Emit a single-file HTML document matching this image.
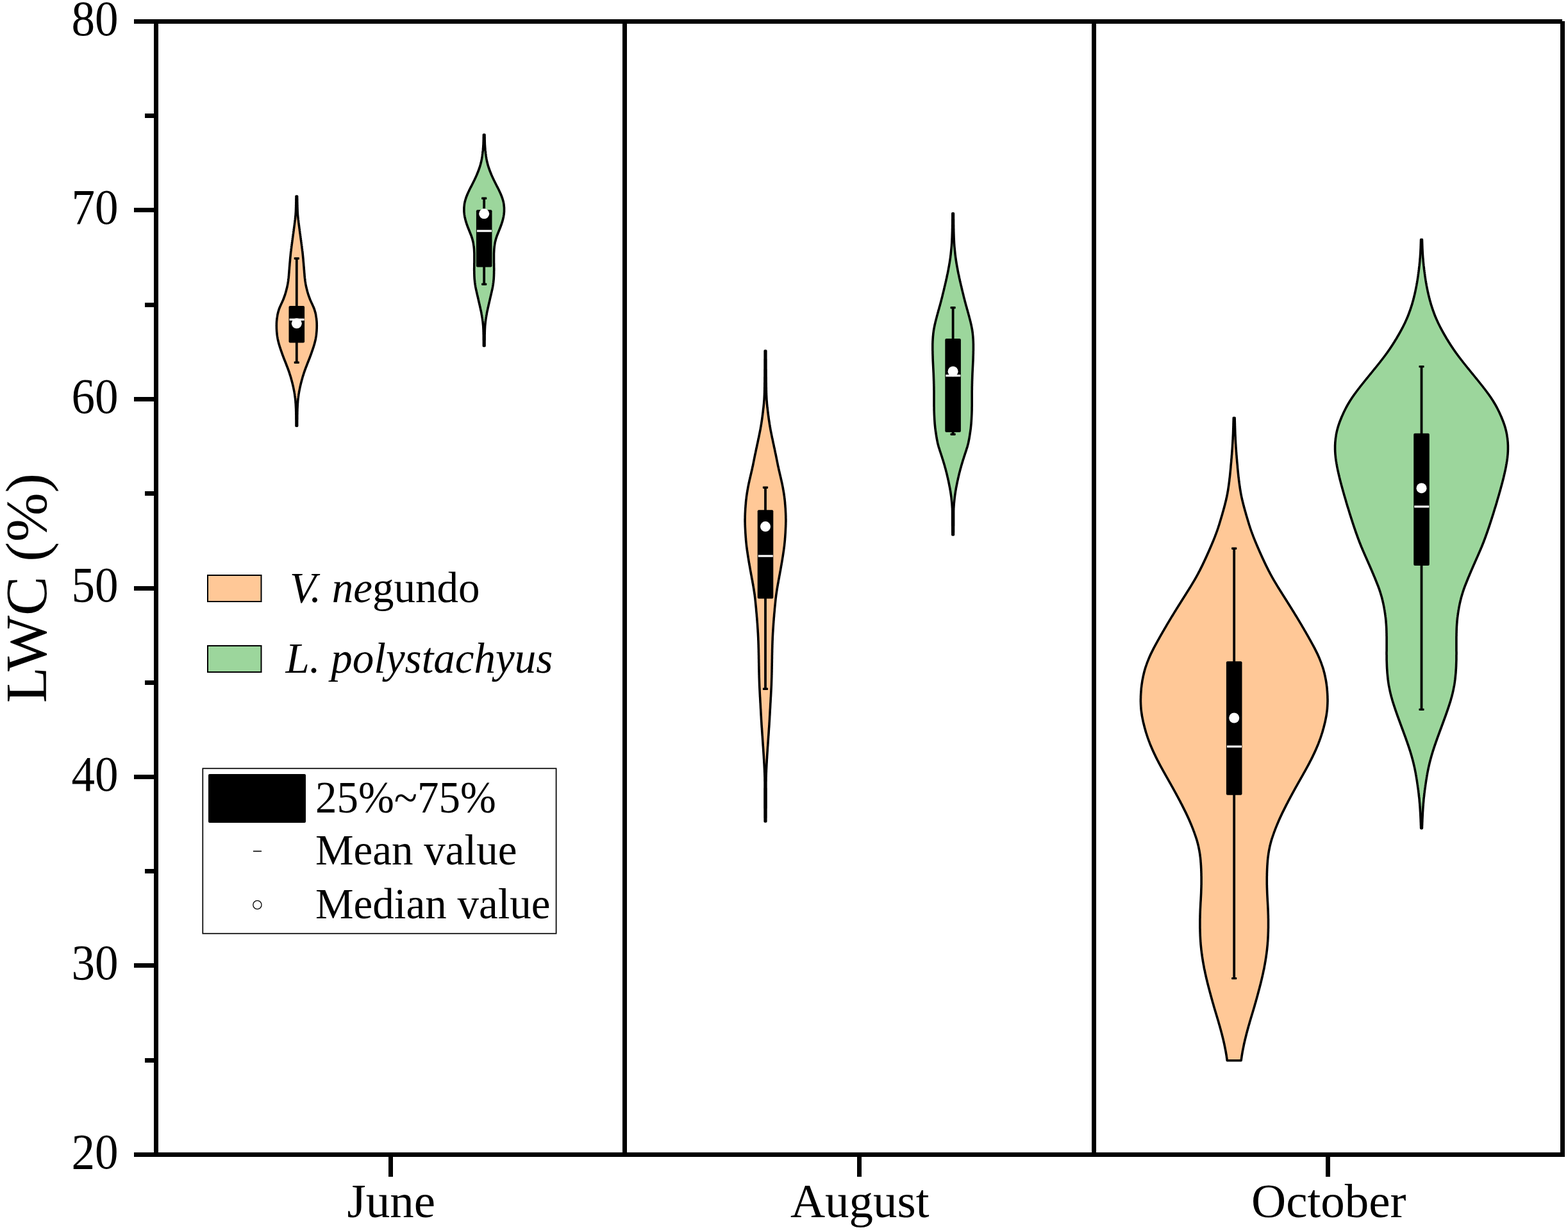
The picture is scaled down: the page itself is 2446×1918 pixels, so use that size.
<!DOCTYPE html>
<html lang="en"><head><meta charset="utf-8"><title>LWC violin plot</title>
<style>html,body{margin:0;padding:0;background:#fff;}body{width:2446px;height:1918px;overflow:hidden;}svg{display:block;}text{font-family:'Liberation Serif', 'Times New Roman', serif;fill:#000;}</style></head><body>
<svg xmlns="http://www.w3.org/2000/svg" width="2446" height="1918" viewBox="0 0 2446 1918">
<rect x="0" y="0" width="2446" height="1918" fill="#fff"/>
<g id="violins">
<path d="M463.6,306.0 L463.6,307.0 L463.6,308.0 L463.6,309.0 L463.7,310.0 L463.7,311.0 L463.7,312.0 L463.7,313.0 L463.7,314.0 L463.7,315.0 L463.8,316.0 L463.8,317.0 L463.8,318.0 L463.8,319.0 L463.9,320.0 L463.9,321.0 L463.9,322.0 L463.9,323.0 L464.0,324.0 L464.0,325.0 L464.0,326.0 L464.1,327.0 L464.1,328.0 L464.1,329.0 L464.2,330.0 L464.2,331.0 L464.3,332.0 L464.4,333.0 L464.4,334.0 L464.5,335.0 L464.6,336.0 L464.7,337.0 L464.8,338.0 L464.9,339.0 L465.0,340.0 L465.1,341.0 L465.2,342.0 L465.3,343.0 L465.5,344.0 L465.6,345.0 L465.7,346.0 L465.8,347.0 L466.0,348.0 L466.1,349.0 L466.2,350.0 L466.4,351.0 L466.5,352.0 L466.6,353.0 L466.8,354.0 L466.9,355.0 L467.0,356.0 L467.2,357.0 L467.3,358.0 L467.4,359.0 L467.5,360.0 L467.7,361.0 L467.8,362.0 L467.9,363.0 L468.1,364.0 L468.2,365.0 L468.4,366.0 L468.5,367.0 L468.6,368.0 L468.8,369.0 L468.9,370.0 L469.0,371.0 L469.2,372.0 L469.3,373.0 L469.4,374.0 L469.6,375.0 L469.7,376.0 L469.8,377.0 L470.0,378.0 L470.1,379.0 L470.2,380.0 L470.4,381.0 L470.5,382.0 L470.6,383.0 L470.8,384.0 L470.9,385.0 L471.0,386.0 L471.1,387.0 L471.3,388.0 L471.4,389.0 L471.5,390.0 L471.6,391.0 L471.8,392.0 L471.9,393.0 L472.0,394.0 L472.1,395.0 L472.2,396.0 L472.3,397.0 L472.4,398.0 L472.5,399.0 L472.6,400.0 L472.7,401.0 L472.8,402.0 L472.9,403.0 L473.0,404.0 L473.1,405.0 L473.1,406.0 L473.2,407.0 L473.3,408.0 L473.4,409.0 L473.5,410.0 L473.6,411.0 L473.7,412.0 L473.7,413.0 L473.8,414.0 L473.9,415.0 L474.0,416.0 L474.1,417.0 L474.2,418.0 L474.2,419.0 L474.3,420.0 L474.4,421.0 L474.5,422.0 L474.6,423.0 L474.6,424.0 L474.7,425.0 L474.8,426.0 L474.9,427.0 L475.0,428.0 L475.0,429.0 L475.1,430.0 L475.2,431.0 L475.3,432.0 L475.4,433.0 L475.5,434.0 L475.7,435.0 L475.8,436.0 L475.9,437.0 L476.0,438.0 L476.2,439.0 L476.3,440.0 L476.5,441.0 L476.7,442.0 L476.8,443.0 L477.0,444.0 L477.2,445.0 L477.4,446.0 L477.6,447.0 L477.8,448.0 L478.1,449.0 L478.3,450.0 L478.6,451.0 L478.8,452.0 L479.1,453.0 L479.3,454.0 L479.6,455.0 L479.9,456.0 L480.2,457.0 L480.5,458.0 L480.8,459.0 L481.1,460.0 L481.5,461.0 L481.8,462.0 L482.2,463.0 L482.6,464.0 L482.9,465.0 L483.3,466.0 L483.7,467.0 L484.1,468.0 L484.6,469.0 L485.0,470.0 L485.5,471.0 L485.9,472.0 L486.4,473.0 L486.9,474.0 L487.3,475.0 L487.8,476.0 L488.2,477.0 L488.7,478.0 L489.1,479.0 L489.5,480.0 L489.9,481.0 L490.3,482.0 L490.6,483.0 L490.9,484.0 L491.2,485.0 L491.5,486.0 L491.8,487.0 L492.0,488.0 L492.3,489.0 L492.5,490.0 L492.7,491.0 L492.9,492.0 L493.0,493.0 L493.2,494.0 L493.3,495.0 L493.5,496.0 L493.6,497.0 L493.7,498.0 L493.8,499.0 L493.9,500.0 L494.0,501.0 L494.1,502.0 L494.1,503.0 L494.2,504.0 L494.2,505.0 L494.2,506.0 L494.2,507.0 L494.3,508.0 L494.2,509.0 L494.2,510.0 L494.2,511.0 L494.2,512.0 L494.1,513.0 L494.1,514.0 L494.0,515.0 L494.0,516.0 L493.9,517.0 L493.8,518.0 L493.7,519.0 L493.6,520.0 L493.5,521.0 L493.4,522.0 L493.3,523.0 L493.1,524.0 L493.0,525.0 L492.8,526.0 L492.6,527.0 L492.5,528.0 L492.3,529.0 L492.1,530.0 L491.9,531.0 L491.6,532.0 L491.4,533.0 L491.1,534.0 L490.9,535.0 L490.6,536.0 L490.3,537.0 L490.0,538.0 L489.7,539.0 L489.4,540.0 L489.1,541.0 L488.8,542.0 L488.4,543.0 L488.1,544.0 L487.8,545.0 L487.4,546.0 L487.1,547.0 L486.7,548.0 L486.4,549.0 L486.0,550.0 L485.7,551.0 L485.3,552.0 L485.0,553.0 L484.6,554.0 L484.2,555.0 L483.8,556.0 L483.5,557.0 L483.1,558.0 L482.7,559.0 L482.3,560.0 L481.9,561.0 L481.5,562.0 L481.1,563.0 L480.7,564.0 L480.3,565.0 L479.9,566.0 L479.5,567.0 L479.1,568.0 L478.8,569.0 L478.4,570.0 L478.0,571.0 L477.6,572.0 L477.2,573.0 L476.8,574.0 L476.5,575.0 L476.1,576.0 L475.7,577.0 L475.4,578.0 L475.0,579.0 L474.7,580.0 L474.3,581.0 L474.0,582.0 L473.7,583.0 L473.4,584.0 L473.1,585.0 L472.7,586.0 L472.4,587.0 L472.1,588.0 L471.8,589.0 L471.6,590.0 L471.3,591.0 L471.0,592.0 L470.7,593.0 L470.5,594.0 L470.2,595.0 L469.9,596.0 L469.7,597.0 L469.4,598.0 L469.2,599.0 L468.9,600.0 L468.7,601.0 L468.5,602.0 L468.2,603.0 L468.0,604.0 L467.8,605.0 L467.6,606.0 L467.4,607.0 L467.2,608.0 L467.0,609.0 L466.8,610.0 L466.6,611.0 L466.4,612.0 L466.3,613.0 L466.1,614.0 L465.9,615.0 L465.8,616.0 L465.7,617.0 L465.5,618.0 L465.4,619.0 L465.3,620.0 L465.1,621.0 L465.0,622.0 L464.9,623.0 L464.8,624.0 L464.7,625.0 L464.6,626.0 L464.6,627.0 L464.5,628.0 L464.4,629.0 L464.3,630.0 L464.3,631.0 L464.2,632.0 L464.2,633.0 L464.1,634.0 L464.1,635.0 L464.0,636.0 L464.0,637.0 L463.9,638.0 L463.9,639.0 L463.9,640.0 L463.9,641.0 L463.8,642.0 L463.8,643.0 L463.8,644.0 L463.8,645.0 L463.8,646.0 L463.7,647.0 L463.7,648.0 L463.7,649.0 L463.7,650.0 L463.7,651.0 L463.7,652.0 L463.7,653.0 L463.7,654.0 L463.6,655.0 L463.6,656.0 L463.6,657.0 L463.6,658.0 L463.6,659.0 L463.6,660.0 L463.6,661.0 L463.6,662.0 L463.6,663.0 L463.6,664.0 L463.6,664.2 L462.0,664.2 L462.0,664.0 L462.0,663.0 L462.0,662.0 L462.0,661.0 L462.0,660.0 L462.0,659.0 L462.0,658.0 L462.0,657.0 L462.0,656.0 L462.0,655.0 L461.9,654.0 L461.9,653.0 L461.9,652.0 L461.9,651.0 L461.9,650.0 L461.9,649.0 L461.9,648.0 L461.9,647.0 L461.8,646.0 L461.8,645.0 L461.8,644.0 L461.8,643.0 L461.8,642.0 L461.7,641.0 L461.7,640.0 L461.7,639.0 L461.7,638.0 L461.6,637.0 L461.6,636.0 L461.5,635.0 L461.5,634.0 L461.4,633.0 L461.4,632.0 L461.3,631.0 L461.3,630.0 L461.2,629.0 L461.1,628.0 L461.0,627.0 L461.0,626.0 L460.9,625.0 L460.8,624.0 L460.7,623.0 L460.6,622.0 L460.5,621.0 L460.3,620.0 L460.2,619.0 L460.1,618.0 L459.9,617.0 L459.8,616.0 L459.7,615.0 L459.5,614.0 L459.3,613.0 L459.2,612.0 L459.0,611.0 L458.8,610.0 L458.6,609.0 L458.4,608.0 L458.2,607.0 L458.0,606.0 L457.8,605.0 L457.6,604.0 L457.4,603.0 L457.1,602.0 L456.9,601.0 L456.7,600.0 L456.4,599.0 L456.2,598.0 L455.9,597.0 L455.7,596.0 L455.4,595.0 L455.1,594.0 L454.9,593.0 L454.6,592.0 L454.3,591.0 L454.0,590.0 L453.8,589.0 L453.5,588.0 L453.2,587.0 L452.9,586.0 L452.5,585.0 L452.2,584.0 L451.9,583.0 L451.6,582.0 L451.3,581.0 L450.9,580.0 L450.6,579.0 L450.2,578.0 L449.9,577.0 L449.5,576.0 L449.1,575.0 L448.8,574.0 L448.4,573.0 L448.0,572.0 L447.6,571.0 L447.2,570.0 L446.8,569.0 L446.5,568.0 L446.1,567.0 L445.7,566.0 L445.3,565.0 L444.9,564.0 L444.5,563.0 L444.1,562.0 L443.7,561.0 L443.3,560.0 L442.9,559.0 L442.5,558.0 L442.1,557.0 L441.8,556.0 L441.4,555.0 L441.0,554.0 L440.6,553.0 L440.3,552.0 L439.9,551.0 L439.6,550.0 L439.2,549.0 L438.9,548.0 L438.5,547.0 L438.2,546.0 L437.8,545.0 L437.5,544.0 L437.2,543.0 L436.8,542.0 L436.5,541.0 L436.2,540.0 L435.9,539.0 L435.6,538.0 L435.3,537.0 L435.0,536.0 L434.7,535.0 L434.5,534.0 L434.2,533.0 L434.0,532.0 L433.7,531.0 L433.5,530.0 L433.3,529.0 L433.1,528.0 L433.0,527.0 L432.8,526.0 L432.6,525.0 L432.5,524.0 L432.3,523.0 L432.2,522.0 L432.1,521.0 L432.0,520.0 L431.9,519.0 L431.8,518.0 L431.7,517.0 L431.6,516.0 L431.6,515.0 L431.5,514.0 L431.5,513.0 L431.4,512.0 L431.4,511.0 L431.4,510.0 L431.4,509.0 L431.3,508.0 L431.4,507.0 L431.4,506.0 L431.4,505.0 L431.4,504.0 L431.5,503.0 L431.5,502.0 L431.6,501.0 L431.7,500.0 L431.8,499.0 L431.9,498.0 L432.0,497.0 L432.1,496.0 L432.3,495.0 L432.4,494.0 L432.6,493.0 L432.7,492.0 L432.9,491.0 L433.1,490.0 L433.3,489.0 L433.6,488.0 L433.8,487.0 L434.1,486.0 L434.4,485.0 L434.7,484.0 L435.0,483.0 L435.3,482.0 L435.7,481.0 L436.1,480.0 L436.5,479.0 L436.9,478.0 L437.4,477.0 L437.8,476.0 L438.3,475.0 L438.7,474.0 L439.2,473.0 L439.7,472.0 L440.1,471.0 L440.6,470.0 L441.0,469.0 L441.5,468.0 L441.9,467.0 L442.3,466.0 L442.7,465.0 L443.0,464.0 L443.4,463.0 L443.8,462.0 L444.1,461.0 L444.5,460.0 L444.8,459.0 L445.1,458.0 L445.4,457.0 L445.7,456.0 L446.0,455.0 L446.3,454.0 L446.5,453.0 L446.8,452.0 L447.0,451.0 L447.3,450.0 L447.5,449.0 L447.8,448.0 L448.0,447.0 L448.2,446.0 L448.4,445.0 L448.6,444.0 L448.8,443.0 L448.9,442.0 L449.1,441.0 L449.3,440.0 L449.4,439.0 L449.6,438.0 L449.7,437.0 L449.8,436.0 L449.9,435.0 L450.1,434.0 L450.2,433.0 L450.3,432.0 L450.4,431.0 L450.5,430.0 L450.6,429.0 L450.6,428.0 L450.7,427.0 L450.8,426.0 L450.9,425.0 L451.0,424.0 L451.0,423.0 L451.1,422.0 L451.2,421.0 L451.3,420.0 L451.4,419.0 L451.4,418.0 L451.5,417.0 L451.6,416.0 L451.7,415.0 L451.8,414.0 L451.9,413.0 L451.9,412.0 L452.0,411.0 L452.1,410.0 L452.2,409.0 L452.3,408.0 L452.4,407.0 L452.5,406.0 L452.5,405.0 L452.6,404.0 L452.7,403.0 L452.8,402.0 L452.9,401.0 L453.0,400.0 L453.1,399.0 L453.2,398.0 L453.3,397.0 L453.4,396.0 L453.5,395.0 L453.6,394.0 L453.7,393.0 L453.8,392.0 L454.0,391.0 L454.1,390.0 L454.2,389.0 L454.3,388.0 L454.5,387.0 L454.6,386.0 L454.7,385.0 L454.8,384.0 L455.0,383.0 L455.1,382.0 L455.2,381.0 L455.4,380.0 L455.5,379.0 L455.6,378.0 L455.8,377.0 L455.9,376.0 L456.0,375.0 L456.2,374.0 L456.3,373.0 L456.4,372.0 L456.6,371.0 L456.7,370.0 L456.8,369.0 L457.0,368.0 L457.1,367.0 L457.2,366.0 L457.4,365.0 L457.5,364.0 L457.7,363.0 L457.8,362.0 L457.9,361.0 L458.1,360.0 L458.2,359.0 L458.3,358.0 L458.4,357.0 L458.6,356.0 L458.7,355.0 L458.8,354.0 L459.0,353.0 L459.1,352.0 L459.2,351.0 L459.4,350.0 L459.5,349.0 L459.6,348.0 L459.8,347.0 L459.9,346.0 L460.0,345.0 L460.1,344.0 L460.3,343.0 L460.4,342.0 L460.5,341.0 L460.6,340.0 L460.7,339.0 L460.8,338.0 L460.9,337.0 L461.0,336.0 L461.1,335.0 L461.2,334.0 L461.2,333.0 L461.3,332.0 L461.4,331.0 L461.4,330.0 L461.5,329.0 L461.5,328.0 L461.5,327.0 L461.6,326.0 L461.6,325.0 L461.6,324.0 L461.7,323.0 L461.7,322.0 L461.7,321.0 L461.7,320.0 L461.8,319.0 L461.8,318.0 L461.8,317.0 L461.8,316.0 L461.9,315.0 L461.9,314.0 L461.9,313.0 L461.9,312.0 L461.9,311.0 L461.9,310.0 L462.0,309.0 L462.0,308.0 L462.0,307.0 L462.0,306.0 Z" fill="#FFC897" stroke="#000" stroke-width="3.6" stroke-linejoin="round"/>
<rect x="460.9" y="403.0" width="3.8" height="162.3" fill="#000"/>
<rect x="458.7" y="401.3" width="8.2" height="3.4" rx="0.8" fill="#000"/>
<rect x="458.7" y="563.6" width="8.2" height="3.4" rx="0.8" fill="#000"/>
<rect x="450.5" y="477.1" width="24.6" height="57.4" rx="2" fill="#000"/>
<circle cx="462.8" cy="504.3" r="8" fill="#fff"/>
<rect x="451.5" y="496.7" width="23.1" height="3.2" fill="#fff"/>
<path d="M756.0,210.0 L756.0,211.0 L756.0,212.0 L756.0,213.0 L756.1,214.0 L756.1,215.0 L756.1,216.0 L756.1,217.0 L756.1,218.0 L756.2,219.0 L756.2,220.0 L756.2,221.0 L756.3,222.0 L756.3,223.0 L756.3,224.0 L756.4,225.0 L756.4,226.0 L756.5,227.0 L756.6,228.0 L756.6,229.0 L756.7,230.0 L756.8,231.0 L756.9,232.0 L756.9,233.0 L757.0,234.0 L757.1,235.0 L757.3,236.0 L757.4,237.0 L757.5,238.0 L757.6,239.0 L757.7,240.0 L757.9,241.0 L758.0,242.0 L758.1,243.0 L758.3,244.0 L758.4,245.0 L758.6,246.0 L758.8,247.0 L758.9,248.0 L759.1,249.0 L759.3,250.0 L759.5,251.0 L759.7,252.0 L760.0,253.0 L760.2,254.0 L760.5,255.0 L760.7,256.0 L761.0,257.0 L761.3,258.0 L761.6,259.0 L761.9,260.0 L762.2,261.0 L762.6,262.0 L762.9,263.0 L763.3,264.0 L763.6,265.0 L764.0,266.0 L764.4,267.0 L764.8,268.0 L765.2,269.0 L765.6,270.0 L766.0,271.0 L766.4,272.0 L766.8,273.0 L767.3,274.0 L767.7,275.0 L768.2,276.0 L768.6,277.0 L769.1,278.0 L769.6,279.0 L770.0,280.0 L770.5,281.0 L771.0,282.0 L771.5,283.0 L772.0,284.0 L772.5,285.0 L773.0,286.0 L773.5,287.0 L774.0,288.0 L774.5,289.0 L775.0,290.0 L775.5,291.0 L776.1,292.0 L776.6,293.0 L777.1,294.0 L777.6,295.0 L778.1,296.0 L778.6,297.0 L779.0,298.0 L779.5,299.0 L780.0,300.0 L780.4,301.0 L780.9,302.0 L781.3,303.0 L781.7,304.0 L782.1,305.0 L782.5,306.0 L782.9,307.0 L783.2,308.0 L783.6,309.0 L783.9,310.0 L784.2,311.0 L784.5,312.0 L784.8,313.0 L785.0,314.0 L785.3,315.0 L785.5,316.0 L785.7,317.0 L785.9,318.0 L786.0,319.0 L786.1,320.0 L786.2,321.0 L786.3,322.0 L786.4,323.0 L786.5,324.0 L786.5,325.0 L786.5,326.0 L786.5,327.0 L786.5,328.0 L786.5,329.0 L786.5,330.0 L786.4,331.0 L786.3,332.0 L786.2,333.0 L786.1,334.0 L786.0,335.0 L785.8,336.0 L785.6,337.0 L785.5,338.0 L785.3,339.0 L785.0,340.0 L784.8,341.0 L784.6,342.0 L784.3,343.0 L784.0,344.0 L783.8,345.0 L783.5,346.0 L783.1,347.0 L782.8,348.0 L782.5,349.0 L782.2,350.0 L781.8,351.0 L781.4,352.0 L781.1,353.0 L780.7,354.0 L780.3,355.0 L779.9,356.0 L779.5,357.0 L779.1,358.0 L778.7,359.0 L778.3,360.0 L777.9,361.0 L777.5,362.0 L777.1,363.0 L776.7,364.0 L776.3,365.0 L775.9,366.0 L775.5,367.0 L775.1,368.0 L774.8,369.0 L774.5,370.0 L774.1,371.0 L773.8,372.0 L773.5,373.0 L773.3,374.0 L773.0,375.0 L772.8,376.0 L772.5,377.0 L772.3,378.0 L772.1,379.0 L771.9,380.0 L771.8,381.0 L771.6,382.0 L771.5,383.0 L771.3,384.0 L771.2,385.0 L771.1,386.0 L771.0,387.0 L770.9,388.0 L770.8,389.0 L770.8,390.0 L770.7,391.0 L770.7,392.0 L770.6,393.0 L770.6,394.0 L770.5,395.0 L770.5,396.0 L770.5,397.0 L770.5,398.0 L770.5,399.0 L770.5,400.0 L770.5,401.0 L770.5,402.0 L770.5,403.0 L770.5,404.0 L770.5,405.0 L770.5,406.0 L770.5,407.0 L770.5,408.0 L770.5,409.0 L770.5,410.0 L770.6,411.0 L770.6,412.0 L770.6,413.0 L770.6,414.0 L770.6,415.0 L770.6,416.0 L770.6,417.0 L770.7,418.0 L770.7,419.0 L770.7,420.0 L770.7,421.0 L770.7,422.0 L770.6,423.0 L770.6,424.0 L770.6,425.0 L770.6,426.0 L770.6,427.0 L770.5,428.0 L770.5,429.0 L770.5,430.0 L770.4,431.0 L770.4,432.0 L770.3,433.0 L770.3,434.0 L770.2,435.0 L770.1,436.0 L770.0,437.0 L769.9,438.0 L769.8,439.0 L769.7,440.0 L769.6,441.0 L769.4,442.0 L769.3,443.0 L769.2,444.0 L769.0,445.0 L768.8,446.0 L768.7,447.0 L768.5,448.0 L768.3,449.0 L768.1,450.0 L767.9,451.0 L767.7,452.0 L767.4,453.0 L767.2,454.0 L767.0,455.0 L766.8,456.0 L766.5,457.0 L766.3,458.0 L766.1,459.0 L765.9,460.0 L765.6,461.0 L765.4,462.0 L765.1,463.0 L764.9,464.0 L764.7,465.0 L764.4,466.0 L764.2,467.0 L764.0,468.0 L763.8,469.0 L763.5,470.0 L763.3,471.0 L763.1,472.0 L762.8,473.0 L762.6,474.0 L762.4,475.0 L762.1,476.0 L761.9,477.0 L761.7,478.0 L761.5,479.0 L761.2,480.0 L761.0,481.0 L760.8,482.0 L760.6,483.0 L760.4,484.0 L760.1,485.0 L759.9,486.0 L759.7,487.0 L759.5,488.0 L759.3,489.0 L759.2,490.0 L759.0,491.0 L758.8,492.0 L758.6,493.0 L758.5,494.0 L758.3,495.0 L758.1,496.0 L758.0,497.0 L757.8,498.0 L757.7,499.0 L757.6,500.0 L757.4,501.0 L757.3,502.0 L757.2,503.0 L757.1,504.0 L757.0,505.0 L756.9,506.0 L756.8,507.0 L756.7,508.0 L756.6,509.0 L756.6,510.0 L756.5,511.0 L756.5,512.0 L756.4,513.0 L756.4,514.0 L756.3,515.0 L756.3,516.0 L756.3,517.0 L756.2,518.0 L756.2,519.0 L756.2,520.0 L756.2,521.0 L756.1,522.0 L756.1,523.0 L756.1,524.0 L756.1,525.0 L756.1,526.0 L756.1,527.0 L756.1,528.0 L756.1,529.0 L756.1,530.0 L756.0,531.0 L756.0,532.0 L756.0,533.0 L756.0,534.0 L756.0,535.0 L756.0,536.0 L756.0,537.0 L756.0,538.0 L756.0,539.0 L756.0,539.4 L754.4,539.4 L754.4,539.0 L754.4,538.0 L754.4,537.0 L754.4,536.0 L754.4,535.0 L754.4,534.0 L754.4,533.0 L754.4,532.0 L754.4,531.0 L754.3,530.0 L754.3,529.0 L754.3,528.0 L754.3,527.0 L754.3,526.0 L754.3,525.0 L754.3,524.0 L754.3,523.0 L754.3,522.0 L754.2,521.0 L754.2,520.0 L754.2,519.0 L754.2,518.0 L754.1,517.0 L754.1,516.0 L754.1,515.0 L754.0,514.0 L754.0,513.0 L753.9,512.0 L753.9,511.0 L753.8,510.0 L753.8,509.0 L753.7,508.0 L753.6,507.0 L753.5,506.0 L753.4,505.0 L753.3,504.0 L753.2,503.0 L753.1,502.0 L753.0,501.0 L752.8,500.0 L752.7,499.0 L752.6,498.0 L752.4,497.0 L752.3,496.0 L752.1,495.0 L751.9,494.0 L751.8,493.0 L751.6,492.0 L751.4,491.0 L751.2,490.0 L751.1,489.0 L750.9,488.0 L750.7,487.0 L750.5,486.0 L750.3,485.0 L750.0,484.0 L749.8,483.0 L749.6,482.0 L749.4,481.0 L749.2,480.0 L748.9,479.0 L748.7,478.0 L748.5,477.0 L748.3,476.0 L748.0,475.0 L747.8,474.0 L747.6,473.0 L747.3,472.0 L747.1,471.0 L746.9,470.0 L746.6,469.0 L746.4,468.0 L746.2,467.0 L746.0,466.0 L745.7,465.0 L745.5,464.0 L745.3,463.0 L745.0,462.0 L744.8,461.0 L744.5,460.0 L744.3,459.0 L744.1,458.0 L743.9,457.0 L743.6,456.0 L743.4,455.0 L743.2,454.0 L743.0,453.0 L742.7,452.0 L742.5,451.0 L742.3,450.0 L742.1,449.0 L741.9,448.0 L741.7,447.0 L741.6,446.0 L741.4,445.0 L741.2,444.0 L741.1,443.0 L741.0,442.0 L740.8,441.0 L740.7,440.0 L740.6,439.0 L740.5,438.0 L740.4,437.0 L740.3,436.0 L740.2,435.0 L740.1,434.0 L740.1,433.0 L740.0,432.0 L740.0,431.0 L739.9,430.0 L739.9,429.0 L739.9,428.0 L739.8,427.0 L739.8,426.0 L739.8,425.0 L739.8,424.0 L739.8,423.0 L739.7,422.0 L739.7,421.0 L739.7,420.0 L739.7,419.0 L739.7,418.0 L739.8,417.0 L739.8,416.0 L739.8,415.0 L739.8,414.0 L739.8,413.0 L739.8,412.0 L739.8,411.0 L739.9,410.0 L739.9,409.0 L739.9,408.0 L739.9,407.0 L739.9,406.0 L739.9,405.0 L739.9,404.0 L739.9,403.0 L739.9,402.0 L739.9,401.0 L739.9,400.0 L739.9,399.0 L739.9,398.0 L739.9,397.0 L739.9,396.0 L739.9,395.0 L739.8,394.0 L739.8,393.0 L739.7,392.0 L739.7,391.0 L739.6,390.0 L739.6,389.0 L739.5,388.0 L739.4,387.0 L739.3,386.0 L739.2,385.0 L739.1,384.0 L738.9,383.0 L738.8,382.0 L738.6,381.0 L738.5,380.0 L738.3,379.0 L738.1,378.0 L737.9,377.0 L737.6,376.0 L737.4,375.0 L737.1,374.0 L736.9,373.0 L736.6,372.0 L736.3,371.0 L735.9,370.0 L735.6,369.0 L735.3,368.0 L734.9,367.0 L734.5,366.0 L734.1,365.0 L733.7,364.0 L733.3,363.0 L732.9,362.0 L732.5,361.0 L732.1,360.0 L731.7,359.0 L731.3,358.0 L730.9,357.0 L730.5,356.0 L730.1,355.0 L729.7,354.0 L729.3,353.0 L729.0,352.0 L728.6,351.0 L728.2,350.0 L727.9,349.0 L727.6,348.0 L727.3,347.0 L726.9,346.0 L726.6,345.0 L726.4,344.0 L726.1,343.0 L725.8,342.0 L725.6,341.0 L725.4,340.0 L725.1,339.0 L724.9,338.0 L724.8,337.0 L724.6,336.0 L724.4,335.0 L724.3,334.0 L724.2,333.0 L724.1,332.0 L724.0,331.0 L723.9,330.0 L723.9,329.0 L723.9,328.0 L723.9,327.0 L723.9,326.0 L723.9,325.0 L723.9,324.0 L724.0,323.0 L724.1,322.0 L724.2,321.0 L724.3,320.0 L724.4,319.0 L724.5,318.0 L724.7,317.0 L724.9,316.0 L725.1,315.0 L725.4,314.0 L725.6,313.0 L725.9,312.0 L726.2,311.0 L726.5,310.0 L726.8,309.0 L727.2,308.0 L727.5,307.0 L727.9,306.0 L728.3,305.0 L728.7,304.0 L729.1,303.0 L729.5,302.0 L730.0,301.0 L730.4,300.0 L730.9,299.0 L731.4,298.0 L731.8,297.0 L732.3,296.0 L732.8,295.0 L733.3,294.0 L733.8,293.0 L734.3,292.0 L734.9,291.0 L735.4,290.0 L735.9,289.0 L736.4,288.0 L736.9,287.0 L737.4,286.0 L737.9,285.0 L738.4,284.0 L738.9,283.0 L739.4,282.0 L739.9,281.0 L740.4,280.0 L740.8,279.0 L741.3,278.0 L741.8,277.0 L742.2,276.0 L742.7,275.0 L743.1,274.0 L743.6,273.0 L744.0,272.0 L744.4,271.0 L744.8,270.0 L745.2,269.0 L745.6,268.0 L746.0,267.0 L746.4,266.0 L746.8,265.0 L747.1,264.0 L747.5,263.0 L747.8,262.0 L748.2,261.0 L748.5,260.0 L748.8,259.0 L749.1,258.0 L749.4,257.0 L749.7,256.0 L749.9,255.0 L750.2,254.0 L750.4,253.0 L750.7,252.0 L750.9,251.0 L751.1,250.0 L751.3,249.0 L751.5,248.0 L751.6,247.0 L751.8,246.0 L752.0,245.0 L752.1,244.0 L752.3,243.0 L752.4,242.0 L752.5,241.0 L752.7,240.0 L752.8,239.0 L752.9,238.0 L753.0,237.0 L753.1,236.0 L753.3,235.0 L753.4,234.0 L753.5,233.0 L753.5,232.0 L753.6,231.0 L753.7,230.0 L753.8,229.0 L753.8,228.0 L753.9,227.0 L754.0,226.0 L754.0,225.0 L754.1,224.0 L754.1,223.0 L754.1,222.0 L754.2,221.0 L754.2,220.0 L754.2,219.0 L754.3,218.0 L754.3,217.0 L754.3,216.0 L754.3,215.0 L754.3,214.0 L754.4,213.0 L754.4,212.0 L754.4,211.0 L754.4,210.0 Z" fill="#9CD69C" stroke="#000" stroke-width="3.6" stroke-linejoin="round"/>
<rect x="753.3" y="309.3" width="3.8" height="133.9" fill="#000"/>
<rect x="751.1" y="307.6" width="8.2" height="3.4" rx="0.8" fill="#000"/>
<rect x="751.1" y="441.5" width="8.2" height="3.4" rx="0.8" fill="#000"/>
<rect x="742.9" y="327.2" width="24.6" height="89.2" rx="2" fill="#000"/>
<circle cx="755.2" cy="333.3" r="8" fill="#fff"/>
<rect x="743.9" y="358.5" width="23.1" height="3.2" fill="#fff"/>
<path d="M1194.8,547.1 L1194.8,548.1 L1194.8,549.1 L1194.8,550.1 L1194.8,551.1 L1194.8,552.1 L1194.8,553.1 L1194.8,554.1 L1194.8,555.1 L1194.8,556.1 L1194.8,557.1 L1194.8,558.1 L1194.8,559.1 L1194.9,560.1 L1194.9,561.1 L1194.9,562.1 L1194.9,563.1 L1194.9,564.1 L1194.9,565.1 L1194.9,566.1 L1194.9,567.1 L1194.9,568.1 L1194.9,569.1 L1194.9,570.1 L1194.9,571.1 L1194.9,572.1 L1194.9,573.1 L1194.9,574.1 L1194.9,575.1 L1195.0,576.1 L1195.0,577.1 L1195.0,578.1 L1195.0,579.1 L1195.0,580.1 L1195.0,581.1 L1195.0,582.1 L1195.0,583.1 L1195.0,584.1 L1195.0,585.1 L1195.0,586.1 L1195.0,587.1 L1195.1,588.1 L1195.1,589.1 L1195.1,590.1 L1195.1,591.1 L1195.1,592.1 L1195.1,593.1 L1195.1,594.1 L1195.1,595.1 L1195.1,596.1 L1195.2,597.1 L1195.2,598.1 L1195.2,599.1 L1195.2,600.1 L1195.2,601.1 L1195.2,602.1 L1195.2,603.1 L1195.3,604.1 L1195.3,605.1 L1195.3,606.1 L1195.3,607.1 L1195.3,608.1 L1195.4,609.1 L1195.4,610.1 L1195.4,611.1 L1195.4,612.1 L1195.5,613.1 L1195.5,614.1 L1195.5,615.1 L1195.6,616.1 L1195.6,617.1 L1195.7,618.1 L1195.7,619.1 L1195.8,620.1 L1195.8,621.1 L1195.9,622.1 L1195.9,623.1 L1196.0,624.1 L1196.1,625.1 L1196.2,626.1 L1196.3,627.1 L1196.3,628.1 L1196.4,629.1 L1196.5,630.1 L1196.6,631.1 L1196.7,632.1 L1196.8,633.1 L1196.9,634.1 L1197.0,635.1 L1197.1,636.1 L1197.3,637.1 L1197.4,638.1 L1197.5,639.1 L1197.6,640.1 L1197.7,641.1 L1197.8,642.1 L1197.9,643.1 L1198.1,644.1 L1198.2,645.1 L1198.3,646.1 L1198.4,647.1 L1198.6,648.1 L1198.7,649.1 L1198.8,650.1 L1199.0,651.1 L1199.1,652.1 L1199.2,653.1 L1199.4,654.1 L1199.5,655.1 L1199.7,656.1 L1199.8,657.1 L1200.0,658.1 L1200.1,659.1 L1200.3,660.1 L1200.4,661.1 L1200.6,662.1 L1200.8,663.1 L1200.9,664.1 L1201.1,665.1 L1201.3,666.1 L1201.5,667.1 L1201.6,668.1 L1201.8,669.1 L1202.0,670.1 L1202.2,671.1 L1202.4,672.1 L1202.6,673.1 L1202.8,674.1 L1203.0,675.1 L1203.2,676.1 L1203.4,677.1 L1203.6,678.1 L1203.8,679.1 L1204.0,680.1 L1204.2,681.1 L1204.4,682.1 L1204.6,683.1 L1204.8,684.1 L1205.1,685.1 L1205.3,686.1 L1205.5,687.1 L1205.7,688.1 L1205.9,689.1 L1206.1,690.1 L1206.3,691.1 L1206.5,692.1 L1206.8,693.1 L1207.0,694.1 L1207.2,695.1 L1207.4,696.1 L1207.6,697.1 L1207.8,698.1 L1208.0,699.1 L1208.3,700.1 L1208.5,701.1 L1208.7,702.1 L1208.9,703.1 L1209.1,704.1 L1209.3,705.1 L1209.5,706.1 L1209.7,707.1 L1209.9,708.1 L1210.2,709.1 L1210.4,710.1 L1210.6,711.1 L1210.8,712.1 L1211.0,713.1 L1211.2,714.1 L1211.4,715.1 L1211.6,716.1 L1211.8,717.1 L1212.0,718.1 L1212.2,719.1 L1212.4,720.1 L1212.6,721.1 L1212.8,722.1 L1213.0,723.1 L1213.2,724.1 L1213.4,725.1 L1213.6,726.1 L1213.8,727.1 L1214.0,728.1 L1214.3,729.1 L1214.5,730.1 L1214.7,731.1 L1214.9,732.1 L1215.1,733.1 L1215.4,734.1 L1215.6,735.1 L1215.8,736.1 L1216.1,737.1 L1216.3,738.1 L1216.5,739.1 L1216.8,740.1 L1217.0,741.1 L1217.2,742.1 L1217.5,743.1 L1217.7,744.1 L1217.9,745.1 L1218.2,746.1 L1218.4,747.1 L1218.6,748.1 L1218.9,749.1 L1219.1,750.1 L1219.3,751.1 L1219.5,752.1 L1219.8,753.1 L1220.0,754.1 L1220.2,755.1 L1220.4,756.1 L1220.6,757.1 L1220.8,758.1 L1221.0,759.1 L1221.2,760.1 L1221.4,761.1 L1221.5,762.1 L1221.7,763.1 L1221.9,764.1 L1222.1,765.1 L1222.2,766.1 L1222.4,767.1 L1222.6,768.1 L1222.7,769.1 L1222.9,770.1 L1223.0,771.1 L1223.2,772.1 L1223.3,773.1 L1223.5,774.1 L1223.6,775.1 L1223.7,776.1 L1223.8,777.1 L1223.9,778.1 L1224.1,779.1 L1224.2,780.1 L1224.3,781.1 L1224.4,782.1 L1224.5,783.1 L1224.6,784.1 L1224.6,785.1 L1224.7,786.1 L1224.8,787.1 L1224.9,788.1 L1225.0,789.1 L1225.0,790.1 L1225.1,791.1 L1225.2,792.1 L1225.3,793.1 L1225.3,794.1 L1225.4,795.1 L1225.4,796.1 L1225.5,797.1 L1225.5,798.1 L1225.6,799.1 L1225.6,800.1 L1225.7,801.1 L1225.7,802.1 L1225.7,803.1 L1225.8,804.1 L1225.8,805.1 L1225.8,806.1 L1225.8,807.1 L1225.8,808.1 L1225.9,809.1 L1225.9,810.1 L1225.9,811.1 L1225.9,812.1 L1225.9,813.1 L1225.9,814.1 L1225.8,815.1 L1225.8,816.1 L1225.8,817.1 L1225.8,818.1 L1225.7,819.1 L1225.7,820.1 L1225.7,821.1 L1225.6,822.1 L1225.6,823.1 L1225.5,824.1 L1225.5,825.1 L1225.4,826.1 L1225.4,827.1 L1225.3,828.1 L1225.3,829.1 L1225.2,830.1 L1225.2,831.1 L1225.1,832.1 L1225.0,833.1 L1225.0,834.1 L1224.9,835.1 L1224.8,836.1 L1224.8,837.1 L1224.7,838.1 L1224.6,839.1 L1224.5,840.1 L1224.5,841.1 L1224.4,842.1 L1224.3,843.1 L1224.2,844.1 L1224.1,845.1 L1224.0,846.1 L1223.9,847.1 L1223.8,848.1 L1223.7,849.1 L1223.6,850.1 L1223.5,851.1 L1223.4,852.1 L1223.2,853.1 L1223.1,854.1 L1223.0,855.1 L1222.8,856.1 L1222.7,857.1 L1222.6,858.1 L1222.4,859.1 L1222.3,860.1 L1222.1,861.1 L1222.0,862.1 L1221.8,863.1 L1221.7,864.1 L1221.5,865.1 L1221.4,866.1 L1221.2,867.1 L1221.1,868.1 L1220.9,869.1 L1220.7,870.1 L1220.6,871.1 L1220.4,872.1 L1220.3,873.1 L1220.1,874.1 L1219.9,875.1 L1219.8,876.1 L1219.6,877.1 L1219.4,878.1 L1219.2,879.1 L1219.1,880.1 L1218.9,881.1 L1218.7,882.1 L1218.5,883.1 L1218.4,884.1 L1218.2,885.1 L1218.0,886.1 L1217.8,887.1 L1217.7,888.1 L1217.5,889.1 L1217.3,890.1 L1217.1,891.1 L1216.9,892.1 L1216.7,893.1 L1216.6,894.1 L1216.4,895.1 L1216.2,896.1 L1216.0,897.1 L1215.8,898.1 L1215.6,899.1 L1215.5,900.1 L1215.3,901.1 L1215.1,902.1 L1214.9,903.1 L1214.7,904.1 L1214.5,905.1 L1214.3,906.1 L1214.2,907.1 L1214.0,908.1 L1213.8,909.1 L1213.6,910.1 L1213.4,911.1 L1213.3,912.1 L1213.1,913.1 L1212.9,914.1 L1212.7,915.1 L1212.6,916.1 L1212.4,917.1 L1212.2,918.1 L1212.1,919.1 L1211.9,920.1 L1211.8,921.1 L1211.6,922.1 L1211.5,923.1 L1211.3,924.1 L1211.2,925.1 L1211.0,926.1 L1210.9,927.1 L1210.7,928.1 L1210.6,929.1 L1210.5,930.1 L1210.4,931.1 L1210.2,932.1 L1210.1,933.1 L1210.0,934.1 L1209.9,935.1 L1209.8,936.1 L1209.7,937.1 L1209.6,938.1 L1209.5,939.1 L1209.4,940.1 L1209.3,941.1 L1209.2,942.1 L1209.1,943.1 L1209.0,944.1 L1208.9,945.1 L1208.8,946.1 L1208.7,947.1 L1208.6,948.1 L1208.5,949.1 L1208.4,950.1 L1208.4,951.1 L1208.3,952.1 L1208.2,953.1 L1208.1,954.1 L1208.0,955.1 L1207.9,956.1 L1207.8,957.1 L1207.7,958.1 L1207.6,959.1 L1207.6,960.1 L1207.5,961.1 L1207.4,962.1 L1207.3,963.1 L1207.2,964.1 L1207.1,965.1 L1207.1,966.1 L1207.0,967.1 L1206.9,968.1 L1206.8,969.1 L1206.8,970.1 L1206.7,971.1 L1206.6,972.1 L1206.5,973.1 L1206.5,974.1 L1206.4,975.1 L1206.3,976.1 L1206.3,977.1 L1206.2,978.1 L1206.1,979.1 L1206.1,980.1 L1206.0,981.1 L1205.9,982.1 L1205.9,983.1 L1205.8,984.1 L1205.8,985.1 L1205.7,986.1 L1205.6,987.1 L1205.6,988.1 L1205.5,989.1 L1205.5,990.1 L1205.4,991.1 L1205.4,992.1 L1205.3,993.1 L1205.3,994.1 L1205.2,995.1 L1205.2,996.1 L1205.2,997.1 L1205.1,998.1 L1205.1,999.1 L1205.0,1000.1 L1205.0,1001.1 L1205.0,1002.1 L1204.9,1003.1 L1204.9,1004.1 L1204.9,1005.1 L1204.8,1006.1 L1204.8,1007.1 L1204.8,1008.1 L1204.8,1009.1 L1204.7,1010.1 L1204.7,1011.1 L1204.7,1012.1 L1204.6,1013.1 L1204.6,1014.1 L1204.6,1015.1 L1204.6,1016.1 L1204.6,1017.1 L1204.5,1018.1 L1204.5,1019.1 L1204.5,1020.1 L1204.5,1021.1 L1204.4,1022.1 L1204.4,1023.1 L1204.4,1024.1 L1204.4,1025.1 L1204.4,1026.1 L1204.4,1027.1 L1204.3,1028.1 L1204.3,1029.1 L1204.3,1030.1 L1204.3,1031.1 L1204.3,1032.1 L1204.3,1033.1 L1204.2,1034.1 L1204.2,1035.1 L1204.2,1036.1 L1204.2,1037.1 L1204.2,1038.1 L1204.1,1039.1 L1204.1,1040.1 L1204.1,1041.1 L1204.1,1042.1 L1204.1,1043.1 L1204.0,1044.1 L1204.0,1045.1 L1204.0,1046.1 L1204.0,1047.1 L1204.0,1048.1 L1203.9,1049.1 L1203.9,1050.1 L1203.9,1051.1 L1203.9,1052.1 L1203.8,1053.1 L1203.8,1054.1 L1203.8,1055.1 L1203.8,1056.1 L1203.7,1057.1 L1203.7,1058.1 L1203.7,1059.1 L1203.6,1060.1 L1203.6,1061.1 L1203.6,1062.1 L1203.5,1063.1 L1203.5,1064.1 L1203.5,1065.1 L1203.4,1066.1 L1203.4,1067.1 L1203.4,1068.1 L1203.3,1069.1 L1203.3,1070.1 L1203.2,1071.1 L1203.2,1072.1 L1203.1,1073.1 L1203.1,1074.1 L1203.0,1075.1 L1203.0,1076.1 L1202.9,1077.1 L1202.9,1078.1 L1202.8,1079.1 L1202.8,1080.1 L1202.7,1081.1 L1202.7,1082.1 L1202.6,1083.1 L1202.6,1084.1 L1202.5,1085.1 L1202.5,1086.1 L1202.4,1087.1 L1202.3,1088.1 L1202.3,1089.1 L1202.2,1090.1 L1202.2,1091.1 L1202.1,1092.1 L1202.1,1093.1 L1202.0,1094.1 L1202.0,1095.1 L1201.9,1096.1 L1201.8,1097.1 L1201.8,1098.1 L1201.7,1099.1 L1201.7,1100.1 L1201.6,1101.1 L1201.6,1102.1 L1201.5,1103.1 L1201.5,1104.1 L1201.4,1105.1 L1201.3,1106.1 L1201.3,1107.1 L1201.2,1108.1 L1201.2,1109.1 L1201.1,1110.1 L1201.1,1111.1 L1201.0,1112.1 L1201.0,1113.1 L1200.9,1114.1 L1200.9,1115.1 L1200.8,1116.1 L1200.7,1117.1 L1200.7,1118.1 L1200.6,1119.1 L1200.6,1120.1 L1200.5,1121.1 L1200.5,1122.1 L1200.4,1123.1 L1200.3,1124.1 L1200.3,1125.1 L1200.2,1126.1 L1200.1,1127.1 L1200.1,1128.1 L1200.0,1129.1 L1200.0,1130.1 L1199.9,1131.1 L1199.8,1132.1 L1199.8,1133.1 L1199.7,1134.1 L1199.6,1135.1 L1199.5,1136.1 L1199.5,1137.1 L1199.4,1138.1 L1199.3,1139.1 L1199.3,1140.1 L1199.2,1141.1 L1199.1,1142.1 L1199.1,1143.1 L1199.0,1144.1 L1198.9,1145.1 L1198.9,1146.1 L1198.8,1147.1 L1198.7,1148.1 L1198.6,1149.1 L1198.6,1150.1 L1198.5,1151.1 L1198.4,1152.1 L1198.4,1153.1 L1198.3,1154.1 L1198.2,1155.1 L1198.2,1156.1 L1198.1,1157.1 L1198.0,1158.1 L1198.0,1159.1 L1197.9,1160.1 L1197.8,1161.1 L1197.8,1162.1 L1197.7,1163.1 L1197.6,1164.1 L1197.5,1165.1 L1197.5,1166.1 L1197.4,1167.1 L1197.3,1168.1 L1197.3,1169.1 L1197.2,1170.1 L1197.2,1171.1 L1197.1,1172.1 L1197.0,1173.1 L1197.0,1174.1 L1196.9,1175.1 L1196.8,1176.1 L1196.8,1177.1 L1196.7,1178.1 L1196.6,1179.1 L1196.6,1180.1 L1196.5,1181.1 L1196.5,1182.1 L1196.4,1183.1 L1196.3,1184.1 L1196.3,1185.1 L1196.2,1186.1 L1196.2,1187.1 L1196.1,1188.1 L1196.1,1189.1 L1196.0,1190.1 L1195.9,1191.1 L1195.9,1192.1 L1195.8,1193.1 L1195.8,1194.1 L1195.7,1195.1 L1195.7,1196.1 L1195.6,1197.1 L1195.6,1198.1 L1195.5,1199.1 L1195.5,1200.1 L1195.4,1201.1 L1195.4,1202.1 L1195.4,1203.1 L1195.3,1204.1 L1195.3,1205.1 L1195.2,1206.1 L1195.2,1207.1 L1195.2,1208.1 L1195.1,1209.1 L1195.1,1210.1 L1195.1,1211.1 L1195.0,1212.1 L1195.0,1213.1 L1195.0,1214.1 L1195.0,1215.1 L1195.0,1216.1 L1195.0,1217.1 L1195.0,1218.1 L1194.9,1219.1 L1194.9,1220.1 L1194.9,1221.1 L1194.9,1222.1 L1194.9,1223.1 L1194.9,1224.1 L1194.9,1225.1 L1194.9,1226.1 L1194.9,1227.1 L1194.9,1228.1 L1195.0,1229.1 L1195.0,1230.1 L1195.0,1231.1 L1195.0,1232.1 L1195.0,1233.1 L1195.0,1234.1 L1195.0,1235.1 L1195.0,1236.1 L1195.0,1237.1 L1195.0,1238.1 L1195.0,1239.1 L1195.0,1240.1 L1195.0,1241.1 L1195.0,1242.1 L1195.0,1243.1 L1195.0,1244.1 L1195.0,1245.1 L1195.0,1246.1 L1195.0,1247.1 L1195.0,1248.1 L1195.0,1249.1 L1195.0,1250.1 L1195.0,1251.1 L1195.0,1252.1 L1195.0,1253.1 L1195.0,1254.1 L1195.0,1255.1 L1195.0,1256.1 L1195.0,1257.1 L1195.0,1258.1 L1195.0,1259.1 L1195.0,1260.1 L1194.9,1261.1 L1194.9,1262.1 L1194.9,1263.1 L1194.9,1264.1 L1194.9,1265.1 L1194.9,1266.1 L1194.9,1267.1 L1194.9,1268.1 L1194.9,1269.1 L1194.9,1270.1 L1194.9,1271.1 L1194.9,1272.1 L1194.9,1273.1 L1194.9,1274.1 L1194.9,1275.1 L1194.8,1276.1 L1194.8,1277.1 L1194.8,1278.1 L1194.8,1279.1 L1194.8,1280.1 L1194.8,1280.9 L1193.2,1280.9 L1193.2,1280.1 L1193.2,1279.1 L1193.2,1278.1 L1193.2,1277.1 L1193.2,1276.1 L1193.1,1275.1 L1193.1,1274.1 L1193.1,1273.1 L1193.1,1272.1 L1193.1,1271.1 L1193.1,1270.1 L1193.1,1269.1 L1193.1,1268.1 L1193.1,1267.1 L1193.1,1266.1 L1193.1,1265.1 L1193.1,1264.1 L1193.1,1263.1 L1193.1,1262.1 L1193.1,1261.1 L1193.0,1260.1 L1193.0,1259.1 L1193.0,1258.1 L1193.0,1257.1 L1193.0,1256.1 L1193.0,1255.1 L1193.0,1254.1 L1193.0,1253.1 L1193.0,1252.1 L1193.0,1251.1 L1193.0,1250.1 L1193.0,1249.1 L1193.0,1248.1 L1193.0,1247.1 L1193.0,1246.1 L1193.0,1245.1 L1193.0,1244.1 L1193.0,1243.1 L1193.0,1242.1 L1193.0,1241.1 L1193.0,1240.1 L1193.0,1239.1 L1193.0,1238.1 L1193.0,1237.1 L1193.0,1236.1 L1193.0,1235.1 L1193.0,1234.1 L1193.0,1233.1 L1193.0,1232.1 L1193.0,1231.1 L1193.0,1230.1 L1193.0,1229.1 L1193.1,1228.1 L1193.1,1227.1 L1193.1,1226.1 L1193.1,1225.1 L1193.1,1224.1 L1193.1,1223.1 L1193.1,1222.1 L1193.1,1221.1 L1193.1,1220.1 L1193.1,1219.1 L1193.0,1218.1 L1193.0,1217.1 L1193.0,1216.1 L1193.0,1215.1 L1193.0,1214.1 L1193.0,1213.1 L1193.0,1212.1 L1192.9,1211.1 L1192.9,1210.1 L1192.9,1209.1 L1192.8,1208.1 L1192.8,1207.1 L1192.8,1206.1 L1192.7,1205.1 L1192.7,1204.1 L1192.6,1203.1 L1192.6,1202.1 L1192.6,1201.1 L1192.5,1200.1 L1192.5,1199.1 L1192.4,1198.1 L1192.4,1197.1 L1192.3,1196.1 L1192.3,1195.1 L1192.2,1194.1 L1192.2,1193.1 L1192.1,1192.1 L1192.1,1191.1 L1192.0,1190.1 L1191.9,1189.1 L1191.9,1188.1 L1191.8,1187.1 L1191.8,1186.1 L1191.7,1185.1 L1191.7,1184.1 L1191.6,1183.1 L1191.5,1182.1 L1191.5,1181.1 L1191.4,1180.1 L1191.4,1179.1 L1191.3,1178.1 L1191.2,1177.1 L1191.2,1176.1 L1191.1,1175.1 L1191.0,1174.1 L1191.0,1173.1 L1190.9,1172.1 L1190.8,1171.1 L1190.8,1170.1 L1190.7,1169.1 L1190.7,1168.1 L1190.6,1167.1 L1190.5,1166.1 L1190.5,1165.1 L1190.4,1164.1 L1190.3,1163.1 L1190.2,1162.1 L1190.2,1161.1 L1190.1,1160.1 L1190.0,1159.1 L1190.0,1158.1 L1189.9,1157.1 L1189.8,1156.1 L1189.8,1155.1 L1189.7,1154.1 L1189.6,1153.1 L1189.6,1152.1 L1189.5,1151.1 L1189.4,1150.1 L1189.4,1149.1 L1189.3,1148.1 L1189.2,1147.1 L1189.1,1146.1 L1189.1,1145.1 L1189.0,1144.1 L1188.9,1143.1 L1188.9,1142.1 L1188.8,1141.1 L1188.7,1140.1 L1188.7,1139.1 L1188.6,1138.1 L1188.5,1137.1 L1188.5,1136.1 L1188.4,1135.1 L1188.3,1134.1 L1188.2,1133.1 L1188.2,1132.1 L1188.1,1131.1 L1188.0,1130.1 L1188.0,1129.1 L1187.9,1128.1 L1187.9,1127.1 L1187.8,1126.1 L1187.7,1125.1 L1187.7,1124.1 L1187.6,1123.1 L1187.5,1122.1 L1187.5,1121.1 L1187.4,1120.1 L1187.4,1119.1 L1187.3,1118.1 L1187.3,1117.1 L1187.2,1116.1 L1187.1,1115.1 L1187.1,1114.1 L1187.0,1113.1 L1187.0,1112.1 L1186.9,1111.1 L1186.9,1110.1 L1186.8,1109.1 L1186.8,1108.1 L1186.7,1107.1 L1186.7,1106.1 L1186.6,1105.1 L1186.5,1104.1 L1186.5,1103.1 L1186.4,1102.1 L1186.4,1101.1 L1186.3,1100.1 L1186.3,1099.1 L1186.2,1098.1 L1186.2,1097.1 L1186.1,1096.1 L1186.0,1095.1 L1186.0,1094.1 L1185.9,1093.1 L1185.9,1092.1 L1185.8,1091.1 L1185.8,1090.1 L1185.7,1089.1 L1185.7,1088.1 L1185.6,1087.1 L1185.5,1086.1 L1185.5,1085.1 L1185.4,1084.1 L1185.4,1083.1 L1185.3,1082.1 L1185.3,1081.1 L1185.2,1080.1 L1185.2,1079.1 L1185.1,1078.1 L1185.1,1077.1 L1185.0,1076.1 L1185.0,1075.1 L1184.9,1074.1 L1184.9,1073.1 L1184.8,1072.1 L1184.8,1071.1 L1184.7,1070.1 L1184.7,1069.1 L1184.6,1068.1 L1184.6,1067.1 L1184.6,1066.1 L1184.5,1065.1 L1184.5,1064.1 L1184.5,1063.1 L1184.4,1062.1 L1184.4,1061.1 L1184.4,1060.1 L1184.3,1059.1 L1184.3,1058.1 L1184.3,1057.1 L1184.2,1056.1 L1184.2,1055.1 L1184.2,1054.1 L1184.2,1053.1 L1184.1,1052.1 L1184.1,1051.1 L1184.1,1050.1 L1184.1,1049.1 L1184.0,1048.1 L1184.0,1047.1 L1184.0,1046.1 L1184.0,1045.1 L1184.0,1044.1 L1183.9,1043.1 L1183.9,1042.1 L1183.9,1041.1 L1183.9,1040.1 L1183.9,1039.1 L1183.8,1038.1 L1183.8,1037.1 L1183.8,1036.1 L1183.8,1035.1 L1183.8,1034.1 L1183.7,1033.1 L1183.7,1032.1 L1183.7,1031.1 L1183.7,1030.1 L1183.7,1029.1 L1183.7,1028.1 L1183.6,1027.1 L1183.6,1026.1 L1183.6,1025.1 L1183.6,1024.1 L1183.6,1023.1 L1183.6,1022.1 L1183.5,1021.1 L1183.5,1020.1 L1183.5,1019.1 L1183.5,1018.1 L1183.4,1017.1 L1183.4,1016.1 L1183.4,1015.1 L1183.4,1014.1 L1183.4,1013.1 L1183.3,1012.1 L1183.3,1011.1 L1183.3,1010.1 L1183.2,1009.1 L1183.2,1008.1 L1183.2,1007.1 L1183.2,1006.1 L1183.1,1005.1 L1183.1,1004.1 L1183.1,1003.1 L1183.0,1002.1 L1183.0,1001.1 L1183.0,1000.1 L1182.9,999.1 L1182.9,998.1 L1182.8,997.1 L1182.8,996.1 L1182.8,995.1 L1182.7,994.1 L1182.7,993.1 L1182.6,992.1 L1182.6,991.1 L1182.5,990.1 L1182.5,989.1 L1182.4,988.1 L1182.4,987.1 L1182.3,986.1 L1182.2,985.1 L1182.2,984.1 L1182.1,983.1 L1182.1,982.1 L1182.0,981.1 L1181.9,980.1 L1181.9,979.1 L1181.8,978.1 L1181.7,977.1 L1181.7,976.1 L1181.6,975.1 L1181.5,974.1 L1181.5,973.1 L1181.4,972.1 L1181.3,971.1 L1181.2,970.1 L1181.2,969.1 L1181.1,968.1 L1181.0,967.1 L1180.9,966.1 L1180.9,965.1 L1180.8,964.1 L1180.7,963.1 L1180.6,962.1 L1180.5,961.1 L1180.4,960.1 L1180.4,959.1 L1180.3,958.1 L1180.2,957.1 L1180.1,956.1 L1180.0,955.1 L1179.9,954.1 L1179.8,953.1 L1179.7,952.1 L1179.6,951.1 L1179.6,950.1 L1179.5,949.1 L1179.4,948.1 L1179.3,947.1 L1179.2,946.1 L1179.1,945.1 L1179.0,944.1 L1178.9,943.1 L1178.8,942.1 L1178.7,941.1 L1178.6,940.1 L1178.5,939.1 L1178.4,938.1 L1178.3,937.1 L1178.2,936.1 L1178.1,935.1 L1178.0,934.1 L1177.9,933.1 L1177.8,932.1 L1177.6,931.1 L1177.5,930.1 L1177.4,929.1 L1177.3,928.1 L1177.1,927.1 L1177.0,926.1 L1176.8,925.1 L1176.7,924.1 L1176.5,923.1 L1176.4,922.1 L1176.2,921.1 L1176.1,920.1 L1175.9,919.1 L1175.8,918.1 L1175.6,917.1 L1175.4,916.1 L1175.3,915.1 L1175.1,914.1 L1174.9,913.1 L1174.7,912.1 L1174.6,911.1 L1174.4,910.1 L1174.2,909.1 L1174.0,908.1 L1173.8,907.1 L1173.7,906.1 L1173.5,905.1 L1173.3,904.1 L1173.1,903.1 L1172.9,902.1 L1172.7,901.1 L1172.5,900.1 L1172.4,899.1 L1172.2,898.1 L1172.0,897.1 L1171.8,896.1 L1171.6,895.1 L1171.4,894.1 L1171.3,893.1 L1171.1,892.1 L1170.9,891.1 L1170.7,890.1 L1170.5,889.1 L1170.3,888.1 L1170.2,887.1 L1170.0,886.1 L1169.8,885.1 L1169.6,884.1 L1169.5,883.1 L1169.3,882.1 L1169.1,881.1 L1168.9,880.1 L1168.8,879.1 L1168.6,878.1 L1168.4,877.1 L1168.2,876.1 L1168.1,875.1 L1167.9,874.1 L1167.7,873.1 L1167.6,872.1 L1167.4,871.1 L1167.3,870.1 L1167.1,869.1 L1166.9,868.1 L1166.8,867.1 L1166.6,866.1 L1166.5,865.1 L1166.3,864.1 L1166.2,863.1 L1166.0,862.1 L1165.9,861.1 L1165.7,860.1 L1165.6,859.1 L1165.4,858.1 L1165.3,857.1 L1165.2,856.1 L1165.0,855.1 L1164.9,854.1 L1164.8,853.1 L1164.6,852.1 L1164.5,851.1 L1164.4,850.1 L1164.3,849.1 L1164.2,848.1 L1164.1,847.1 L1164.0,846.1 L1163.9,845.1 L1163.8,844.1 L1163.7,843.1 L1163.6,842.1 L1163.5,841.1 L1163.5,840.1 L1163.4,839.1 L1163.3,838.1 L1163.2,837.1 L1163.2,836.1 L1163.1,835.1 L1163.0,834.1 L1163.0,833.1 L1162.9,832.1 L1162.8,831.1 L1162.8,830.1 L1162.7,829.1 L1162.7,828.1 L1162.6,827.1 L1162.6,826.1 L1162.5,825.1 L1162.5,824.1 L1162.4,823.1 L1162.4,822.1 L1162.3,821.1 L1162.3,820.1 L1162.3,819.1 L1162.2,818.1 L1162.2,817.1 L1162.2,816.1 L1162.2,815.1 L1162.1,814.1 L1162.1,813.1 L1162.1,812.1 L1162.1,811.1 L1162.1,810.1 L1162.1,809.1 L1162.2,808.1 L1162.2,807.1 L1162.2,806.1 L1162.2,805.1 L1162.2,804.1 L1162.3,803.1 L1162.3,802.1 L1162.3,801.1 L1162.4,800.1 L1162.4,799.1 L1162.5,798.1 L1162.5,797.1 L1162.6,796.1 L1162.6,795.1 L1162.7,794.1 L1162.7,793.1 L1162.8,792.1 L1162.9,791.1 L1163.0,790.1 L1163.0,789.1 L1163.1,788.1 L1163.2,787.1 L1163.3,786.1 L1163.4,785.1 L1163.4,784.1 L1163.5,783.1 L1163.6,782.1 L1163.7,781.1 L1163.8,780.1 L1163.9,779.1 L1164.1,778.1 L1164.2,777.1 L1164.3,776.1 L1164.4,775.1 L1164.5,774.1 L1164.7,773.1 L1164.8,772.1 L1165.0,771.1 L1165.1,770.1 L1165.3,769.1 L1165.4,768.1 L1165.6,767.1 L1165.8,766.1 L1165.9,765.1 L1166.1,764.1 L1166.3,763.1 L1166.5,762.1 L1166.6,761.1 L1166.8,760.1 L1167.0,759.1 L1167.2,758.1 L1167.4,757.1 L1167.6,756.1 L1167.8,755.1 L1168.0,754.1 L1168.2,753.1 L1168.5,752.1 L1168.7,751.1 L1168.9,750.1 L1169.1,749.1 L1169.4,748.1 L1169.6,747.1 L1169.8,746.1 L1170.1,745.1 L1170.3,744.1 L1170.5,743.1 L1170.8,742.1 L1171.0,741.1 L1171.2,740.1 L1171.5,739.1 L1171.7,738.1 L1171.9,737.1 L1172.2,736.1 L1172.4,735.1 L1172.6,734.1 L1172.9,733.1 L1173.1,732.1 L1173.3,731.1 L1173.5,730.1 L1173.7,729.1 L1174.0,728.1 L1174.2,727.1 L1174.4,726.1 L1174.6,725.1 L1174.8,724.1 L1175.0,723.1 L1175.2,722.1 L1175.4,721.1 L1175.6,720.1 L1175.8,719.1 L1176.0,718.1 L1176.2,717.1 L1176.4,716.1 L1176.6,715.1 L1176.8,714.1 L1177.0,713.1 L1177.2,712.1 L1177.4,711.1 L1177.6,710.1 L1177.8,709.1 L1178.1,708.1 L1178.3,707.1 L1178.5,706.1 L1178.7,705.1 L1178.9,704.1 L1179.1,703.1 L1179.3,702.1 L1179.5,701.1 L1179.7,700.1 L1180.0,699.1 L1180.2,698.1 L1180.4,697.1 L1180.6,696.1 L1180.8,695.1 L1181.0,694.1 L1181.2,693.1 L1181.5,692.1 L1181.7,691.1 L1181.9,690.1 L1182.1,689.1 L1182.3,688.1 L1182.5,687.1 L1182.7,686.1 L1182.9,685.1 L1183.2,684.1 L1183.4,683.1 L1183.6,682.1 L1183.8,681.1 L1184.0,680.1 L1184.2,679.1 L1184.4,678.1 L1184.6,677.1 L1184.8,676.1 L1185.0,675.1 L1185.2,674.1 L1185.4,673.1 L1185.6,672.1 L1185.8,671.1 L1186.0,670.1 L1186.2,669.1 L1186.4,668.1 L1186.5,667.1 L1186.7,666.1 L1186.9,665.1 L1187.1,664.1 L1187.2,663.1 L1187.4,662.1 L1187.6,661.1 L1187.7,660.1 L1187.9,659.1 L1188.0,658.1 L1188.2,657.1 L1188.3,656.1 L1188.5,655.1 L1188.6,654.1 L1188.8,653.1 L1188.9,652.1 L1189.0,651.1 L1189.2,650.1 L1189.3,649.1 L1189.4,648.1 L1189.6,647.1 L1189.7,646.1 L1189.8,645.1 L1189.9,644.1 L1190.1,643.1 L1190.2,642.1 L1190.3,641.1 L1190.4,640.1 L1190.5,639.1 L1190.6,638.1 L1190.7,637.1 L1190.9,636.1 L1191.0,635.1 L1191.1,634.1 L1191.2,633.1 L1191.3,632.1 L1191.4,631.1 L1191.5,630.1 L1191.6,629.1 L1191.7,628.1 L1191.7,627.1 L1191.8,626.1 L1191.9,625.1 L1192.0,624.1 L1192.1,623.1 L1192.1,622.1 L1192.2,621.1 L1192.2,620.1 L1192.3,619.1 L1192.3,618.1 L1192.4,617.1 L1192.4,616.1 L1192.5,615.1 L1192.5,614.1 L1192.5,613.1 L1192.6,612.1 L1192.6,611.1 L1192.6,610.1 L1192.6,609.1 L1192.7,608.1 L1192.7,607.1 L1192.7,606.1 L1192.7,605.1 L1192.7,604.1 L1192.8,603.1 L1192.8,602.1 L1192.8,601.1 L1192.8,600.1 L1192.8,599.1 L1192.8,598.1 L1192.8,597.1 L1192.9,596.1 L1192.9,595.1 L1192.9,594.1 L1192.9,593.1 L1192.9,592.1 L1192.9,591.1 L1192.9,590.1 L1192.9,589.1 L1192.9,588.1 L1193.0,587.1 L1193.0,586.1 L1193.0,585.1 L1193.0,584.1 L1193.0,583.1 L1193.0,582.1 L1193.0,581.1 L1193.0,580.1 L1193.0,579.1 L1193.0,578.1 L1193.0,577.1 L1193.0,576.1 L1193.1,575.1 L1193.1,574.1 L1193.1,573.1 L1193.1,572.1 L1193.1,571.1 L1193.1,570.1 L1193.1,569.1 L1193.1,568.1 L1193.1,567.1 L1193.1,566.1 L1193.1,565.1 L1193.1,564.1 L1193.1,563.1 L1193.1,562.1 L1193.1,561.1 L1193.1,560.1 L1193.2,559.1 L1193.2,558.1 L1193.2,557.1 L1193.2,556.1 L1193.2,555.1 L1193.2,554.1 L1193.2,553.1 L1193.2,552.1 L1193.2,551.1 L1193.2,550.1 L1193.2,549.1 L1193.2,548.1 L1193.2,547.1 Z" fill="#FFC897" stroke="#000" stroke-width="3.6" stroke-linejoin="round"/>
<rect x="1192.1" y="760.2" width="3.8" height="314.1" fill="#000"/>
<rect x="1189.9" y="758.5" width="8.2" height="3.4" rx="0.8" fill="#000"/>
<rect x="1189.9" y="1072.6" width="8.2" height="3.4" rx="0.8" fill="#000"/>
<rect x="1181.7" y="795.3" width="24.6" height="138.1" rx="2" fill="#000"/>
<circle cx="1194.0" cy="821.1" r="8" fill="#fff"/>
<rect x="1182.7" y="865.4" width="23.1" height="3.2" fill="#fff"/>
<path d="M1487.4,332.9 L1487.4,333.9 L1487.4,334.9 L1487.4,335.9 L1487.4,336.9 L1487.4,337.9 L1487.4,338.9 L1487.4,339.9 L1487.4,340.9 L1487.5,341.9 L1487.5,342.9 L1487.5,343.9 L1487.5,344.9 L1487.5,345.9 L1487.5,346.9 L1487.5,347.9 L1487.5,348.9 L1487.5,349.9 L1487.6,350.9 L1487.6,351.9 L1487.6,352.9 L1487.6,353.9 L1487.6,354.9 L1487.6,355.9 L1487.7,356.9 L1487.7,357.9 L1487.7,358.9 L1487.7,359.9 L1487.7,360.9 L1487.8,361.9 L1487.8,362.9 L1487.8,363.9 L1487.9,364.9 L1487.9,365.9 L1487.9,366.9 L1488.0,367.9 L1488.0,368.9 L1488.0,369.9 L1488.1,370.9 L1488.1,371.9 L1488.2,372.9 L1488.2,373.9 L1488.3,374.9 L1488.3,375.9 L1488.4,376.9 L1488.4,377.9 L1488.5,378.9 L1488.5,379.9 L1488.6,380.9 L1488.7,381.9 L1488.7,382.9 L1488.8,383.9 L1488.9,384.9 L1489.0,385.9 L1489.1,386.9 L1489.2,387.9 L1489.3,388.9 L1489.4,389.9 L1489.5,390.9 L1489.6,391.9 L1489.7,392.9 L1489.8,393.9 L1489.9,394.9 L1490.0,395.9 L1490.1,396.9 L1490.2,397.9 L1490.4,398.9 L1490.5,399.9 L1490.6,400.9 L1490.7,401.9 L1490.9,402.9 L1491.0,403.9 L1491.2,404.9 L1491.3,405.9 L1491.5,406.9 L1491.6,407.9 L1491.8,408.9 L1491.9,409.9 L1492.1,410.9 L1492.3,411.9 L1492.5,412.9 L1492.6,413.9 L1492.8,414.9 L1493.0,415.9 L1493.2,416.9 L1493.4,417.9 L1493.6,418.9 L1493.7,419.9 L1493.9,420.9 L1494.1,421.9 L1494.3,422.9 L1494.5,423.9 L1494.7,424.9 L1494.9,425.9 L1495.1,426.9 L1495.4,427.9 L1495.6,428.9 L1495.8,429.9 L1496.0,430.9 L1496.2,431.9 L1496.4,432.9 L1496.6,433.9 L1496.9,434.9 L1497.1,435.9 L1497.3,436.9 L1497.5,437.9 L1497.8,438.9 L1498.0,439.9 L1498.2,440.9 L1498.5,441.9 L1498.7,442.9 L1498.9,443.9 L1499.2,444.9 L1499.4,445.9 L1499.7,446.9 L1499.9,447.9 L1500.1,448.9 L1500.4,449.9 L1500.6,450.9 L1500.8,451.9 L1501.1,452.9 L1501.3,453.9 L1501.6,454.9 L1501.8,455.9 L1502.1,456.9 L1502.3,457.9 L1502.6,458.9 L1502.8,459.9 L1503.0,460.9 L1503.3,461.9 L1503.5,462.9 L1503.8,463.9 L1504.0,464.9 L1504.3,465.9 L1504.6,466.9 L1504.8,467.9 L1505.1,468.9 L1505.3,469.9 L1505.6,470.9 L1505.9,471.9 L1506.1,472.9 L1506.4,473.9 L1506.7,474.9 L1506.9,475.9 L1507.2,476.9 L1507.5,477.9 L1507.8,478.9 L1508.1,479.9 L1508.3,480.9 L1508.6,481.9 L1508.9,482.9 L1509.2,483.9 L1509.5,484.9 L1509.7,485.9 L1510.0,486.9 L1510.3,487.9 L1510.6,488.9 L1510.8,489.9 L1511.1,490.9 L1511.4,491.9 L1511.7,492.9 L1511.9,493.9 L1512.2,494.9 L1512.4,495.9 L1512.7,496.9 L1513.0,497.9 L1513.2,498.9 L1513.5,499.9 L1513.7,500.9 L1514.0,501.9 L1514.2,502.9 L1514.4,503.9 L1514.7,504.9 L1514.9,505.9 L1515.1,506.9 L1515.3,507.9 L1515.5,508.9 L1515.7,509.9 L1515.9,510.9 L1516.1,511.9 L1516.3,512.9 L1516.5,513.9 L1516.6,514.9 L1516.8,515.9 L1516.9,516.9 L1517.0,517.9 L1517.2,518.9 L1517.3,519.9 L1517.4,520.9 L1517.5,521.9 L1517.6,522.9 L1517.7,523.9 L1517.8,524.9 L1517.9,525.9 L1517.9,526.9 L1518.0,527.9 L1518.1,528.9 L1518.1,529.9 L1518.2,530.9 L1518.2,531.9 L1518.3,532.9 L1518.3,533.9 L1518.3,534.9 L1518.4,535.9 L1518.4,536.9 L1518.4,537.9 L1518.4,538.9 L1518.4,539.9 L1518.4,540.9 L1518.4,541.9 L1518.4,542.9 L1518.4,543.9 L1518.4,544.9 L1518.4,545.9 L1518.4,546.9 L1518.3,547.9 L1518.3,548.9 L1518.3,549.9 L1518.3,550.9 L1518.3,551.9 L1518.2,552.9 L1518.2,553.9 L1518.2,554.9 L1518.1,555.9 L1518.1,556.9 L1518.1,557.9 L1518.1,558.9 L1518.0,559.9 L1518.0,560.9 L1518.0,561.9 L1517.9,562.9 L1517.9,563.9 L1517.8,564.9 L1517.8,565.9 L1517.7,566.9 L1517.7,567.9 L1517.6,568.9 L1517.6,569.9 L1517.5,570.9 L1517.5,571.9 L1517.4,572.9 L1517.4,573.9 L1517.3,574.9 L1517.3,575.9 L1517.2,576.9 L1517.2,577.9 L1517.1,578.9 L1517.1,579.9 L1517.0,580.9 L1517.0,581.9 L1516.9,582.9 L1516.9,583.9 L1516.9,584.9 L1516.8,585.9 L1516.8,586.9 L1516.8,587.9 L1516.7,588.9 L1516.7,589.9 L1516.7,590.9 L1516.6,591.9 L1516.6,592.9 L1516.6,593.9 L1516.5,594.9 L1516.5,595.9 L1516.5,596.9 L1516.5,597.9 L1516.4,598.9 L1516.4,599.9 L1516.4,600.9 L1516.4,601.9 L1516.3,602.9 L1516.3,603.9 L1516.3,604.9 L1516.3,605.9 L1516.3,606.9 L1516.3,607.9 L1516.2,608.9 L1516.2,609.9 L1516.2,610.9 L1516.2,611.9 L1516.2,612.9 L1516.2,613.9 L1516.2,614.9 L1516.2,615.9 L1516.2,616.9 L1516.2,617.9 L1516.2,618.9 L1516.2,619.9 L1516.2,620.9 L1516.2,621.9 L1516.2,622.9 L1516.2,623.9 L1516.2,624.9 L1516.2,625.9 L1516.2,626.9 L1516.2,627.9 L1516.2,628.9 L1516.2,629.9 L1516.2,630.9 L1516.2,631.9 L1516.2,632.9 L1516.2,633.9 L1516.1,634.9 L1516.1,635.9 L1516.1,636.9 L1516.1,637.9 L1516.1,638.9 L1516.1,639.9 L1516.0,640.9 L1516.0,641.9 L1516.0,642.9 L1515.9,643.9 L1515.9,644.9 L1515.9,645.9 L1515.8,646.9 L1515.8,647.9 L1515.7,648.9 L1515.7,649.9 L1515.6,650.9 L1515.6,651.9 L1515.5,652.9 L1515.5,653.9 L1515.4,654.9 L1515.3,655.9 L1515.3,656.9 L1515.2,657.9 L1515.1,658.9 L1515.1,659.9 L1515.0,660.9 L1514.9,661.9 L1514.8,662.9 L1514.7,663.9 L1514.6,664.9 L1514.5,665.9 L1514.4,666.9 L1514.3,667.9 L1514.2,668.9 L1514.0,669.9 L1513.9,670.9 L1513.8,671.9 L1513.6,672.9 L1513.5,673.9 L1513.3,674.9 L1513.2,675.9 L1513.0,676.9 L1512.9,677.9 L1512.7,678.9 L1512.6,679.9 L1512.4,680.9 L1512.2,681.9 L1512.1,682.9 L1511.9,683.9 L1511.7,684.9 L1511.5,685.9 L1511.3,686.9 L1511.1,687.9 L1510.9,688.9 L1510.7,689.9 L1510.5,690.9 L1510.2,691.9 L1510.0,692.9 L1509.7,693.9 L1509.4,694.9 L1509.2,695.9 L1508.9,696.9 L1508.6,697.9 L1508.3,698.9 L1507.9,699.9 L1507.6,700.9 L1507.3,701.9 L1507.0,702.9 L1506.7,703.9 L1506.3,704.9 L1506.0,705.9 L1505.7,706.9 L1505.3,707.9 L1505.0,708.9 L1504.7,709.9 L1504.4,710.9 L1504.0,711.9 L1503.7,712.9 L1503.4,713.9 L1503.1,714.9 L1502.8,715.9 L1502.4,716.9 L1502.1,717.9 L1501.8,718.9 L1501.5,719.9 L1501.2,720.9 L1500.9,721.9 L1500.6,722.9 L1500.3,723.9 L1500.0,724.9 L1499.7,725.9 L1499.4,726.9 L1499.2,727.9 L1498.9,728.9 L1498.6,729.9 L1498.3,730.9 L1498.0,731.9 L1497.8,732.9 L1497.5,733.9 L1497.3,734.9 L1497.0,735.9 L1496.7,736.9 L1496.5,737.9 L1496.2,738.9 L1496.0,739.9 L1495.8,740.9 L1495.5,741.9 L1495.3,742.9 L1495.1,743.9 L1494.8,744.9 L1494.6,745.9 L1494.4,746.9 L1494.2,747.9 L1493.9,748.9 L1493.7,749.9 L1493.5,750.9 L1493.3,751.9 L1493.1,752.9 L1492.9,753.9 L1492.7,754.9 L1492.5,755.9 L1492.3,756.9 L1492.1,757.9 L1491.9,758.9 L1491.7,759.9 L1491.5,760.9 L1491.3,761.9 L1491.2,762.9 L1491.0,763.9 L1490.8,764.9 L1490.6,765.9 L1490.5,766.9 L1490.3,767.9 L1490.2,768.9 L1490.0,769.9 L1489.9,770.9 L1489.7,771.9 L1489.6,772.9 L1489.5,773.9 L1489.3,774.9 L1489.2,775.9 L1489.1,776.9 L1489.0,777.9 L1488.9,778.9 L1488.8,779.9 L1488.7,780.9 L1488.6,781.9 L1488.5,782.9 L1488.4,783.9 L1488.3,784.9 L1488.2,785.9 L1488.1,786.9 L1488.1,787.9 L1488.0,788.9 L1487.9,789.9 L1487.9,790.9 L1487.8,791.9 L1487.7,792.9 L1487.7,793.9 L1487.7,794.9 L1487.6,795.9 L1487.6,796.9 L1487.6,797.9 L1487.6,798.9 L1487.6,799.9 L1487.6,800.9 L1487.6,801.9 L1487.6,802.9 L1487.6,803.9 L1487.6,804.9 L1487.6,805.9 L1487.6,806.9 L1487.6,807.9 L1487.6,808.9 L1487.6,809.9 L1487.6,810.9 L1487.6,811.9 L1487.6,812.9 L1487.6,813.9 L1487.6,814.9 L1487.6,815.9 L1487.6,816.9 L1487.6,817.9 L1487.6,818.9 L1487.6,819.9 L1487.5,820.9 L1487.5,821.9 L1487.5,822.9 L1487.5,823.9 L1487.5,824.9 L1487.5,825.9 L1487.5,826.9 L1487.5,827.9 L1487.5,828.9 L1487.5,829.9 L1487.4,830.9 L1487.4,831.9 L1487.4,832.9 L1487.4,833.9 L1487.4,834.0 L1485.8,834.0 L1485.8,833.9 L1485.8,832.9 L1485.8,831.9 L1485.8,830.9 L1485.7,829.9 L1485.7,828.9 L1485.7,827.9 L1485.7,826.9 L1485.7,825.9 L1485.7,824.9 L1485.7,823.9 L1485.7,822.9 L1485.7,821.9 L1485.7,820.9 L1485.6,819.9 L1485.6,818.9 L1485.6,817.9 L1485.6,816.9 L1485.6,815.9 L1485.6,814.9 L1485.6,813.9 L1485.6,812.9 L1485.6,811.9 L1485.6,810.9 L1485.6,809.9 L1485.6,808.9 L1485.6,807.9 L1485.6,806.9 L1485.6,805.9 L1485.6,804.9 L1485.6,803.9 L1485.6,802.9 L1485.6,801.9 L1485.6,800.9 L1485.6,799.9 L1485.6,798.9 L1485.6,797.9 L1485.6,796.9 L1485.6,795.9 L1485.5,794.9 L1485.5,793.9 L1485.5,792.9 L1485.4,791.9 L1485.3,790.9 L1485.3,789.9 L1485.2,788.9 L1485.1,787.9 L1485.1,786.9 L1485.0,785.9 L1484.9,784.9 L1484.8,783.9 L1484.7,782.9 L1484.6,781.9 L1484.5,780.9 L1484.4,779.9 L1484.3,778.9 L1484.2,777.9 L1484.1,776.9 L1484.0,775.9 L1483.9,774.9 L1483.7,773.9 L1483.6,772.9 L1483.5,771.9 L1483.3,770.9 L1483.2,769.9 L1483.0,768.9 L1482.9,767.9 L1482.7,766.9 L1482.6,765.9 L1482.4,764.9 L1482.2,763.9 L1482.0,762.9 L1481.9,761.9 L1481.7,760.9 L1481.5,759.9 L1481.3,758.9 L1481.1,757.9 L1480.9,756.9 L1480.7,755.9 L1480.5,754.9 L1480.3,753.9 L1480.1,752.9 L1479.9,751.9 L1479.7,750.9 L1479.5,749.9 L1479.3,748.9 L1479.0,747.9 L1478.8,746.9 L1478.6,745.9 L1478.4,744.9 L1478.1,743.9 L1477.9,742.9 L1477.7,741.9 L1477.4,740.9 L1477.2,739.9 L1477.0,738.9 L1476.7,737.9 L1476.5,736.9 L1476.2,735.9 L1475.9,734.9 L1475.7,733.9 L1475.4,732.9 L1475.2,731.9 L1474.9,730.9 L1474.6,729.9 L1474.3,728.9 L1474.0,727.9 L1473.8,726.9 L1473.5,725.9 L1473.2,724.9 L1472.9,723.9 L1472.6,722.9 L1472.3,721.9 L1472.0,720.9 L1471.7,719.9 L1471.4,718.9 L1471.1,717.9 L1470.8,716.9 L1470.4,715.9 L1470.1,714.9 L1469.8,713.9 L1469.5,712.9 L1469.2,711.9 L1468.8,710.9 L1468.5,709.9 L1468.2,708.9 L1467.9,707.9 L1467.5,706.9 L1467.2,705.9 L1466.9,704.9 L1466.5,703.9 L1466.2,702.9 L1465.9,701.9 L1465.6,700.9 L1465.3,699.9 L1464.9,698.9 L1464.6,697.9 L1464.3,696.9 L1464.0,695.9 L1463.8,694.9 L1463.5,693.9 L1463.2,692.9 L1463.0,691.9 L1462.7,690.9 L1462.5,689.9 L1462.3,688.9 L1462.1,687.9 L1461.9,686.9 L1461.7,685.9 L1461.5,684.9 L1461.3,683.9 L1461.1,682.9 L1461.0,681.9 L1460.8,680.9 L1460.6,679.9 L1460.5,678.9 L1460.3,677.9 L1460.2,676.9 L1460.0,675.9 L1459.9,674.9 L1459.7,673.9 L1459.6,672.9 L1459.4,671.9 L1459.3,670.9 L1459.2,669.9 L1459.0,668.9 L1458.9,667.9 L1458.8,666.9 L1458.7,665.9 L1458.6,664.9 L1458.5,663.9 L1458.4,662.9 L1458.3,661.9 L1458.2,660.9 L1458.1,659.9 L1458.1,658.9 L1458.0,657.9 L1457.9,656.9 L1457.9,655.9 L1457.8,654.9 L1457.7,653.9 L1457.7,652.9 L1457.6,651.9 L1457.6,650.9 L1457.5,649.9 L1457.5,648.9 L1457.4,647.9 L1457.4,646.9 L1457.3,645.9 L1457.3,644.9 L1457.3,643.9 L1457.2,642.9 L1457.2,641.9 L1457.2,640.9 L1457.1,639.9 L1457.1,638.9 L1457.1,637.9 L1457.1,636.9 L1457.1,635.9 L1457.1,634.9 L1457.0,633.9 L1457.0,632.9 L1457.0,631.9 L1457.0,630.9 L1457.0,629.9 L1457.0,628.9 L1457.0,627.9 L1457.0,626.9 L1457.0,625.9 L1457.0,624.9 L1457.0,623.9 L1457.0,622.9 L1457.0,621.9 L1457.0,620.9 L1457.0,619.9 L1457.0,618.9 L1457.0,617.9 L1457.0,616.9 L1457.0,615.9 L1457.0,614.9 L1457.0,613.9 L1457.0,612.9 L1457.0,611.9 L1457.0,610.9 L1457.0,609.9 L1457.0,608.9 L1456.9,607.9 L1456.9,606.9 L1456.9,605.9 L1456.9,604.9 L1456.9,603.9 L1456.9,602.9 L1456.8,601.9 L1456.8,600.9 L1456.8,599.9 L1456.8,598.9 L1456.7,597.9 L1456.7,596.9 L1456.7,595.9 L1456.7,594.9 L1456.6,593.9 L1456.6,592.9 L1456.6,591.9 L1456.5,590.9 L1456.5,589.9 L1456.5,588.9 L1456.4,587.9 L1456.4,586.9 L1456.4,585.9 L1456.3,584.9 L1456.3,583.9 L1456.3,582.9 L1456.2,581.9 L1456.2,580.9 L1456.1,579.9 L1456.1,578.9 L1456.0,577.9 L1456.0,576.9 L1455.9,575.9 L1455.9,574.9 L1455.8,573.9 L1455.8,572.9 L1455.7,571.9 L1455.7,570.9 L1455.6,569.9 L1455.6,568.9 L1455.5,567.9 L1455.5,566.9 L1455.4,565.9 L1455.4,564.9 L1455.3,563.9 L1455.3,562.9 L1455.2,561.9 L1455.2,560.9 L1455.2,559.9 L1455.1,558.9 L1455.1,557.9 L1455.1,556.9 L1455.1,555.9 L1455.0,554.9 L1455.0,553.9 L1455.0,552.9 L1454.9,551.9 L1454.9,550.9 L1454.9,549.9 L1454.9,548.9 L1454.9,547.9 L1454.8,546.9 L1454.8,545.9 L1454.8,544.9 L1454.8,543.9 L1454.8,542.9 L1454.8,541.9 L1454.8,540.9 L1454.8,539.9 L1454.8,538.9 L1454.8,537.9 L1454.8,536.9 L1454.8,535.9 L1454.9,534.9 L1454.9,533.9 L1454.9,532.9 L1455.0,531.9 L1455.0,530.9 L1455.1,529.9 L1455.1,528.9 L1455.2,527.9 L1455.3,526.9 L1455.3,525.9 L1455.4,524.9 L1455.5,523.9 L1455.6,522.9 L1455.7,521.9 L1455.8,520.9 L1455.9,519.9 L1456.0,518.9 L1456.2,517.9 L1456.3,516.9 L1456.4,515.9 L1456.6,514.9 L1456.7,513.9 L1456.9,512.9 L1457.1,511.9 L1457.3,510.9 L1457.5,509.9 L1457.7,508.9 L1457.9,507.9 L1458.1,506.9 L1458.3,505.9 L1458.5,504.9 L1458.8,503.9 L1459.0,502.9 L1459.2,501.9 L1459.5,500.9 L1459.7,499.9 L1460.0,498.9 L1460.2,497.9 L1460.5,496.9 L1460.8,495.9 L1461.0,494.9 L1461.3,493.9 L1461.5,492.9 L1461.8,491.9 L1462.1,490.9 L1462.4,489.9 L1462.6,488.9 L1462.9,487.9 L1463.2,486.9 L1463.5,485.9 L1463.7,484.9 L1464.0,483.9 L1464.3,482.9 L1464.6,481.9 L1464.9,480.9 L1465.1,479.9 L1465.4,478.9 L1465.7,477.9 L1466.0,476.9 L1466.3,475.9 L1466.5,474.9 L1466.8,473.9 L1467.1,472.9 L1467.3,471.9 L1467.6,470.9 L1467.9,469.9 L1468.1,468.9 L1468.4,467.9 L1468.6,466.9 L1468.9,465.9 L1469.2,464.9 L1469.4,463.9 L1469.7,462.9 L1469.9,461.9 L1470.2,460.9 L1470.4,459.9 L1470.6,458.9 L1470.9,457.9 L1471.1,456.9 L1471.4,455.9 L1471.6,454.9 L1471.9,453.9 L1472.1,452.9 L1472.4,451.9 L1472.6,450.9 L1472.8,449.9 L1473.1,448.9 L1473.3,447.9 L1473.5,446.9 L1473.8,445.9 L1474.0,444.9 L1474.3,443.9 L1474.5,442.9 L1474.7,441.9 L1475.0,440.9 L1475.2,439.9 L1475.4,438.9 L1475.7,437.9 L1475.9,436.9 L1476.1,435.9 L1476.3,434.9 L1476.6,433.9 L1476.8,432.9 L1477.0,431.9 L1477.2,430.9 L1477.4,429.9 L1477.6,428.9 L1477.8,427.9 L1478.1,426.9 L1478.3,425.9 L1478.5,424.9 L1478.7,423.9 L1478.9,422.9 L1479.1,421.9 L1479.3,420.9 L1479.5,419.9 L1479.6,418.9 L1479.8,417.9 L1480.0,416.9 L1480.2,415.9 L1480.4,414.9 L1480.6,413.9 L1480.7,412.9 L1480.9,411.9 L1481.1,410.9 L1481.3,409.9 L1481.4,408.9 L1481.6,407.9 L1481.7,406.9 L1481.9,405.9 L1482.0,404.9 L1482.2,403.9 L1482.3,402.9 L1482.5,401.9 L1482.6,400.9 L1482.7,399.9 L1482.8,398.9 L1483.0,397.9 L1483.1,396.9 L1483.2,395.9 L1483.3,394.9 L1483.4,393.9 L1483.5,392.9 L1483.6,391.9 L1483.7,390.9 L1483.8,389.9 L1483.9,388.9 L1484.0,387.9 L1484.1,386.9 L1484.2,385.9 L1484.3,384.9 L1484.4,383.9 L1484.5,382.9 L1484.5,381.9 L1484.6,380.9 L1484.7,379.9 L1484.7,378.9 L1484.8,377.9 L1484.8,376.9 L1484.9,375.9 L1484.9,374.9 L1485.0,373.9 L1485.0,372.9 L1485.1,371.9 L1485.1,370.9 L1485.2,369.9 L1485.2,368.9 L1485.2,367.9 L1485.3,366.9 L1485.3,365.9 L1485.3,364.9 L1485.4,363.9 L1485.4,362.9 L1485.4,361.9 L1485.5,360.9 L1485.5,359.9 L1485.5,358.9 L1485.5,357.9 L1485.5,356.9 L1485.6,355.9 L1485.6,354.9 L1485.6,353.9 L1485.6,352.9 L1485.6,351.9 L1485.6,350.9 L1485.7,349.9 L1485.7,348.9 L1485.7,347.9 L1485.7,346.9 L1485.7,345.9 L1485.7,344.9 L1485.7,343.9 L1485.7,342.9 L1485.7,341.9 L1485.8,340.9 L1485.8,339.9 L1485.8,338.9 L1485.8,337.9 L1485.8,336.9 L1485.8,335.9 L1485.8,334.9 L1485.8,333.9 L1485.8,332.9 Z" fill="#9CD69C" stroke="#000" stroke-width="3.6" stroke-linejoin="round"/>
<rect x="1484.7" y="479.8" width="3.8" height="197.4" fill="#000"/>
<rect x="1482.5" y="478.1" width="8.2" height="3.4" rx="0.8" fill="#000"/>
<rect x="1482.5" y="675.5" width="8.2" height="3.4" rx="0.8" fill="#000"/>
<rect x="1474.3" y="528.1" width="24.6" height="145.9" rx="2" fill="#000"/>
<circle cx="1486.6" cy="579.2" r="8" fill="#fff"/>
<rect x="1475.3" y="584.2" width="23.1" height="3.2" fill="#fff"/>
<path d="M1926.1,651.6 L1926.1,652.6 L1926.2,653.6 L1926.2,654.6 L1926.2,655.6 L1926.2,656.6 L1926.3,657.6 L1926.3,658.6 L1926.3,659.6 L1926.4,660.6 L1926.4,661.6 L1926.4,662.6 L1926.4,663.6 L1926.5,664.6 L1926.5,665.6 L1926.5,666.6 L1926.6,667.6 L1926.6,668.6 L1926.6,669.6 L1926.7,670.6 L1926.7,671.6 L1926.7,672.6 L1926.8,673.6 L1926.8,674.6 L1926.8,675.6 L1926.9,676.6 L1926.9,677.6 L1927.0,678.6 L1927.0,679.6 L1927.1,680.6 L1927.1,681.6 L1927.2,682.6 L1927.2,683.6 L1927.2,684.6 L1927.3,685.6 L1927.4,686.6 L1927.4,687.6 L1927.5,688.6 L1927.5,689.6 L1927.6,690.6 L1927.6,691.6 L1927.7,692.6 L1927.8,693.6 L1927.8,694.6 L1927.9,695.6 L1927.9,696.6 L1928.0,697.6 L1928.1,698.6 L1928.1,699.6 L1928.2,700.6 L1928.3,701.6 L1928.4,702.6 L1928.4,703.6 L1928.5,704.6 L1928.6,705.6 L1928.7,706.6 L1928.7,707.6 L1928.8,708.6 L1928.9,709.6 L1929.0,710.6 L1929.1,711.6 L1929.1,712.6 L1929.2,713.6 L1929.3,714.6 L1929.4,715.6 L1929.5,716.6 L1929.6,717.6 L1929.6,718.6 L1929.7,719.6 L1929.8,720.6 L1929.9,721.6 L1930.0,722.6 L1930.1,723.6 L1930.2,724.6 L1930.3,725.6 L1930.4,726.6 L1930.5,727.6 L1930.5,728.6 L1930.6,729.6 L1930.7,730.6 L1930.8,731.6 L1930.9,732.6 L1931.0,733.6 L1931.1,734.6 L1931.2,735.6 L1931.3,736.6 L1931.4,737.6 L1931.5,738.6 L1931.6,739.6 L1931.7,740.6 L1931.8,741.6 L1931.9,742.6 L1932.0,743.6 L1932.1,744.6 L1932.3,745.6 L1932.4,746.6 L1932.5,747.6 L1932.6,748.6 L1932.7,749.6 L1932.8,750.6 L1933.0,751.6 L1933.1,752.6 L1933.2,753.6 L1933.4,754.6 L1933.5,755.6 L1933.6,756.6 L1933.8,757.6 L1933.9,758.6 L1934.1,759.6 L1934.2,760.6 L1934.4,761.6 L1934.5,762.6 L1934.7,763.6 L1934.8,764.6 L1935.0,765.6 L1935.2,766.6 L1935.4,767.6 L1935.5,768.6 L1935.7,769.6 L1935.9,770.6 L1936.1,771.6 L1936.3,772.6 L1936.5,773.6 L1936.7,774.6 L1936.9,775.6 L1937.1,776.6 L1937.4,777.6 L1937.6,778.6 L1937.8,779.6 L1938.0,780.6 L1938.3,781.6 L1938.5,782.6 L1938.8,783.6 L1939.0,784.6 L1939.3,785.6 L1939.5,786.6 L1939.8,787.6 L1940.0,788.6 L1940.3,789.6 L1940.6,790.6 L1940.8,791.6 L1941.1,792.6 L1941.4,793.6 L1941.7,794.6 L1941.9,795.6 L1942.2,796.6 L1942.5,797.6 L1942.8,798.6 L1943.1,799.6 L1943.4,800.6 L1943.6,801.6 L1943.9,802.6 L1944.2,803.6 L1944.5,804.6 L1944.8,805.6 L1945.1,806.6 L1945.4,807.6 L1945.7,808.6 L1946.0,809.6 L1946.3,810.6 L1946.6,811.6 L1946.9,812.6 L1947.2,813.6 L1947.5,814.6 L1947.8,815.6 L1948.1,816.6 L1948.4,817.6 L1948.7,818.6 L1949.1,819.6 L1949.4,820.6 L1949.7,821.6 L1950.0,822.6 L1950.4,823.6 L1950.7,824.6 L1951.1,825.6 L1951.4,826.6 L1951.8,827.6 L1952.1,828.6 L1952.5,829.6 L1952.9,830.6 L1953.2,831.6 L1953.6,832.6 L1954.0,833.6 L1954.4,834.6 L1954.7,835.6 L1955.1,836.6 L1955.5,837.6 L1955.9,838.6 L1956.3,839.6 L1956.7,840.6 L1957.1,841.6 L1957.5,842.6 L1957.9,843.6 L1958.3,844.6 L1958.7,845.6 L1959.2,846.6 L1959.6,847.6 L1960.0,848.6 L1960.4,849.6 L1960.8,850.6 L1961.3,851.6 L1961.7,852.6 L1962.1,853.6 L1962.6,854.6 L1963.0,855.6 L1963.4,856.6 L1963.9,857.6 L1964.3,858.6 L1964.7,859.6 L1965.2,860.6 L1965.6,861.6 L1966.1,862.6 L1966.5,863.6 L1967.0,864.6 L1967.4,865.6 L1967.9,866.6 L1968.3,867.6 L1968.8,868.6 L1969.2,869.6 L1969.7,870.6 L1970.2,871.6 L1970.6,872.6 L1971.1,873.6 L1971.6,874.6 L1972.0,875.6 L1972.5,876.6 L1973.0,877.6 L1973.5,878.6 L1973.9,879.6 L1974.4,880.6 L1974.9,881.6 L1975.4,882.6 L1975.9,883.6 L1976.4,884.6 L1976.9,885.6 L1977.4,886.6 L1977.9,887.6 L1978.4,888.6 L1978.9,889.6 L1979.4,890.6 L1980.0,891.6 L1980.5,892.6 L1981.0,893.6 L1981.5,894.6 L1982.1,895.6 L1982.6,896.6 L1983.2,897.6 L1983.7,898.6 L1984.3,899.6 L1984.8,900.6 L1985.4,901.6 L1986.0,902.6 L1986.5,903.6 L1987.1,904.6 L1987.7,905.6 L1988.3,906.6 L1988.9,907.6 L1989.5,908.6 L1990.1,909.6 L1990.7,910.6 L1991.3,911.6 L1991.9,912.6 L1992.5,913.6 L1993.1,914.6 L1993.7,915.6 L1994.3,916.6 L1995.0,917.6 L1995.6,918.6 L1996.2,919.6 L1996.8,920.6 L1997.5,921.6 L1998.1,922.6 L1998.7,923.6 L1999.4,924.6 L2000.0,925.6 L2000.6,926.6 L2001.2,927.6 L2001.9,928.6 L2002.5,929.6 L2003.1,930.6 L2003.8,931.6 L2004.4,932.6 L2005.0,933.6 L2005.7,934.6 L2006.3,935.6 L2006.9,936.6 L2007.6,937.6 L2008.2,938.6 L2008.8,939.6 L2009.4,940.6 L2010.1,941.6 L2010.7,942.6 L2011.3,943.6 L2012.0,944.6 L2012.6,945.6 L2013.2,946.6 L2013.8,947.6 L2014.5,948.6 L2015.1,949.6 L2015.7,950.6 L2016.3,951.6 L2016.9,952.6 L2017.6,953.6 L2018.2,954.6 L2018.8,955.6 L2019.4,956.6 L2020.0,957.6 L2020.6,958.6 L2021.2,959.6 L2021.9,960.6 L2022.5,961.6 L2023.1,962.6 L2023.7,963.6 L2024.3,964.6 L2024.9,965.6 L2025.5,966.6 L2026.1,967.6 L2026.7,968.6 L2027.3,969.6 L2027.9,970.6 L2028.5,971.6 L2029.1,972.6 L2029.7,973.6 L2030.3,974.6 L2030.9,975.6 L2031.4,976.6 L2032.0,977.6 L2032.6,978.6 L2033.2,979.6 L2033.8,980.6 L2034.4,981.6 L2034.9,982.6 L2035.5,983.6 L2036.1,984.6 L2036.7,985.6 L2037.3,986.6 L2037.8,987.6 L2038.4,988.6 L2039.0,989.6 L2039.6,990.6 L2040.1,991.6 L2040.7,992.6 L2041.3,993.6 L2041.8,994.6 L2042.4,995.6 L2042.9,996.6 L2043.5,997.6 L2044.1,998.6 L2044.6,999.6 L2045.2,1000.6 L2045.7,1001.6 L2046.3,1002.6 L2046.8,1003.6 L2047.4,1004.6 L2047.9,1005.6 L2048.5,1006.6 L2049.0,1007.6 L2049.5,1008.6 L2050.1,1009.6 L2050.6,1010.6 L2051.1,1011.6 L2051.6,1012.6 L2052.1,1013.6 L2052.6,1014.6 L2053.1,1015.6 L2053.6,1016.6 L2054.1,1017.6 L2054.6,1018.6 L2055.1,1019.6 L2055.5,1020.6 L2056.0,1021.6 L2056.5,1022.6 L2056.9,1023.6 L2057.3,1024.6 L2057.8,1025.6 L2058.2,1026.6 L2058.6,1027.6 L2059.0,1028.6 L2059.4,1029.6 L2059.8,1030.6 L2060.2,1031.6 L2060.6,1032.6 L2061.0,1033.6 L2061.3,1034.6 L2061.7,1035.6 L2062.0,1036.6 L2062.4,1037.6 L2062.7,1038.6 L2063.1,1039.6 L2063.4,1040.6 L2063.7,1041.6 L2064.0,1042.6 L2064.3,1043.6 L2064.6,1044.6 L2064.9,1045.6 L2065.1,1046.6 L2065.4,1047.6 L2065.7,1048.6 L2065.9,1049.6 L2066.2,1050.6 L2066.4,1051.6 L2066.6,1052.6 L2066.9,1053.6 L2067.1,1054.6 L2067.3,1055.6 L2067.5,1056.6 L2067.7,1057.6 L2067.9,1058.6 L2068.1,1059.6 L2068.3,1060.6 L2068.5,1061.6 L2068.6,1062.6 L2068.8,1063.6 L2068.9,1064.6 L2069.1,1065.6 L2069.2,1066.6 L2069.4,1067.6 L2069.5,1068.6 L2069.6,1069.6 L2069.7,1070.6 L2069.9,1071.6 L2070.0,1072.6 L2070.1,1073.6 L2070.2,1074.6 L2070.2,1075.6 L2070.3,1076.6 L2070.4,1077.6 L2070.5,1078.6 L2070.5,1079.6 L2070.6,1080.6 L2070.7,1081.6 L2070.7,1082.6 L2070.8,1083.6 L2070.8,1084.6 L2070.9,1085.6 L2070.9,1086.6 L2070.9,1087.6 L2070.9,1088.6 L2071.0,1089.6 L2071.0,1090.6 L2071.0,1091.6 L2071.0,1092.6 L2071.0,1093.6 L2071.0,1094.6 L2070.9,1095.6 L2070.9,1096.6 L2070.9,1097.6 L2070.8,1098.6 L2070.8,1099.6 L2070.7,1100.6 L2070.7,1101.6 L2070.6,1102.6 L2070.5,1103.6 L2070.5,1104.6 L2070.4,1105.6 L2070.3,1106.6 L2070.2,1107.6 L2070.1,1108.6 L2069.9,1109.6 L2069.8,1110.6 L2069.7,1111.6 L2069.5,1112.6 L2069.4,1113.6 L2069.2,1114.6 L2069.1,1115.6 L2068.9,1116.6 L2068.7,1117.6 L2068.5,1118.6 L2068.3,1119.6 L2068.1,1120.6 L2067.9,1121.6 L2067.7,1122.6 L2067.5,1123.6 L2067.3,1124.6 L2067.1,1125.6 L2066.9,1126.6 L2066.6,1127.6 L2066.4,1128.6 L2066.1,1129.6 L2065.9,1130.6 L2065.6,1131.6 L2065.4,1132.6 L2065.1,1133.6 L2064.9,1134.6 L2064.6,1135.6 L2064.3,1136.6 L2064.0,1137.6 L2063.7,1138.6 L2063.5,1139.6 L2063.2,1140.6 L2062.9,1141.6 L2062.6,1142.6 L2062.2,1143.6 L2061.9,1144.6 L2061.6,1145.6 L2061.3,1146.6 L2060.9,1147.6 L2060.6,1148.6 L2060.3,1149.6 L2059.9,1150.6 L2059.6,1151.6 L2059.2,1152.6 L2058.8,1153.6 L2058.5,1154.6 L2058.1,1155.6 L2057.7,1156.6 L2057.3,1157.6 L2057.0,1158.6 L2056.6,1159.6 L2056.2,1160.6 L2055.8,1161.6 L2055.4,1162.6 L2054.9,1163.6 L2054.5,1164.6 L2054.1,1165.6 L2053.7,1166.6 L2053.2,1167.6 L2052.8,1168.6 L2052.4,1169.6 L2051.9,1170.6 L2051.5,1171.6 L2051.0,1172.6 L2050.5,1173.6 L2050.1,1174.6 L2049.6,1175.6 L2049.1,1176.6 L2048.6,1177.6 L2048.2,1178.6 L2047.7,1179.6 L2047.2,1180.6 L2046.7,1181.6 L2046.2,1182.6 L2045.7,1183.6 L2045.2,1184.6 L2044.7,1185.6 L2044.1,1186.6 L2043.6,1187.6 L2043.1,1188.6 L2042.6,1189.6 L2042.1,1190.6 L2041.5,1191.6 L2041.0,1192.6 L2040.5,1193.6 L2039.9,1194.6 L2039.4,1195.6 L2038.8,1196.6 L2038.3,1197.6 L2037.7,1198.6 L2037.2,1199.6 L2036.6,1200.6 L2036.1,1201.6 L2035.5,1202.6 L2035.0,1203.6 L2034.4,1204.6 L2033.8,1205.6 L2033.3,1206.6 L2032.7,1207.6 L2032.2,1208.6 L2031.6,1209.6 L2031.0,1210.6 L2030.5,1211.6 L2029.9,1212.6 L2029.3,1213.6 L2028.8,1214.6 L2028.2,1215.6 L2027.6,1216.6 L2027.1,1217.6 L2026.5,1218.6 L2025.9,1219.6 L2025.4,1220.6 L2024.8,1221.6 L2024.2,1222.6 L2023.7,1223.6 L2023.1,1224.6 L2022.6,1225.6 L2022.0,1226.6 L2021.4,1227.6 L2020.9,1228.6 L2020.3,1229.6 L2019.8,1230.6 L2019.2,1231.6 L2018.7,1232.6 L2018.1,1233.6 L2017.6,1234.6 L2017.0,1235.6 L2016.5,1236.6 L2015.9,1237.6 L2015.4,1238.6 L2014.9,1239.6 L2014.3,1240.6 L2013.8,1241.6 L2013.2,1242.6 L2012.7,1243.6 L2012.2,1244.6 L2011.6,1245.6 L2011.1,1246.6 L2010.6,1247.6 L2010.0,1248.6 L2009.5,1249.6 L2009.0,1250.6 L2008.5,1251.6 L2008.0,1252.6 L2007.4,1253.6 L2006.9,1254.6 L2006.4,1255.6 L2005.9,1256.6 L2005.4,1257.6 L2004.9,1258.6 L2004.4,1259.6 L2003.9,1260.6 L2003.4,1261.6 L2002.9,1262.6 L2002.4,1263.6 L2001.9,1264.6 L2001.4,1265.6 L2000.9,1266.6 L2000.4,1267.6 L1999.9,1268.6 L1999.5,1269.6 L1999.0,1270.6 L1998.5,1271.6 L1998.1,1272.6 L1997.6,1273.6 L1997.1,1274.6 L1996.7,1275.6 L1996.2,1276.6 L1995.8,1277.6 L1995.3,1278.6 L1994.9,1279.6 L1994.5,1280.6 L1994.0,1281.6 L1993.6,1282.6 L1993.2,1283.6 L1992.8,1284.6 L1992.3,1285.6 L1991.9,1286.6 L1991.5,1287.6 L1991.1,1288.6 L1990.7,1289.6 L1990.3,1290.6 L1989.9,1291.6 L1989.5,1292.6 L1989.1,1293.6 L1988.8,1294.6 L1988.4,1295.6 L1988.0,1296.6 L1987.6,1297.6 L1987.3,1298.6 L1986.9,1299.6 L1986.6,1300.6 L1986.2,1301.6 L1985.9,1302.6 L1985.5,1303.6 L1985.2,1304.6 L1984.9,1305.6 L1984.5,1306.6 L1984.2,1307.6 L1983.9,1308.6 L1983.6,1309.6 L1983.3,1310.6 L1983.0,1311.6 L1982.7,1312.6 L1982.5,1313.6 L1982.2,1314.6 L1981.9,1315.6 L1981.7,1316.6 L1981.4,1317.6 L1981.2,1318.6 L1980.9,1319.6 L1980.7,1320.6 L1980.5,1321.6 L1980.3,1322.6 L1980.1,1323.6 L1979.9,1324.6 L1979.7,1325.6 L1979.5,1326.6 L1979.3,1327.6 L1979.2,1328.6 L1979.0,1329.6 L1978.8,1330.6 L1978.7,1331.6 L1978.6,1332.6 L1978.4,1333.6 L1978.3,1334.6 L1978.2,1335.6 L1978.0,1336.6 L1977.9,1337.6 L1977.8,1338.6 L1977.7,1339.6 L1977.6,1340.6 L1977.5,1341.6 L1977.4,1342.6 L1977.4,1343.6 L1977.3,1344.6 L1977.2,1345.6 L1977.1,1346.6 L1977.1,1347.6 L1977.0,1348.6 L1976.9,1349.6 L1976.9,1350.6 L1976.8,1351.6 L1976.8,1352.6 L1976.7,1353.6 L1976.7,1354.6 L1976.6,1355.6 L1976.6,1356.6 L1976.6,1357.6 L1976.5,1358.6 L1976.5,1359.6 L1976.5,1360.6 L1976.4,1361.6 L1976.4,1362.6 L1976.4,1363.6 L1976.4,1364.6 L1976.4,1365.6 L1976.3,1366.6 L1976.3,1367.6 L1976.3,1368.6 L1976.3,1369.6 L1976.3,1370.6 L1976.3,1371.6 L1976.3,1372.6 L1976.3,1373.6 L1976.3,1374.6 L1976.3,1375.6 L1976.3,1376.6 L1976.3,1377.6 L1976.3,1378.6 L1976.3,1379.6 L1976.4,1380.6 L1976.4,1381.6 L1976.4,1382.6 L1976.4,1383.6 L1976.5,1384.6 L1976.5,1385.6 L1976.5,1386.6 L1976.6,1387.6 L1976.6,1388.6 L1976.6,1389.6 L1976.7,1390.6 L1976.7,1391.6 L1976.7,1392.6 L1976.8,1393.6 L1976.8,1394.6 L1976.9,1395.6 L1976.9,1396.6 L1977.0,1397.6 L1977.0,1398.6 L1977.1,1399.6 L1977.1,1400.6 L1977.2,1401.6 L1977.2,1402.6 L1977.3,1403.6 L1977.3,1404.6 L1977.4,1405.6 L1977.5,1406.6 L1977.5,1407.6 L1977.6,1408.6 L1977.6,1409.6 L1977.7,1410.6 L1977.7,1411.6 L1977.8,1412.6 L1977.8,1413.6 L1977.9,1414.6 L1977.9,1415.6 L1978.0,1416.6 L1978.0,1417.6 L1978.1,1418.6 L1978.1,1419.6 L1978.1,1420.6 L1978.2,1421.6 L1978.2,1422.6 L1978.2,1423.6 L1978.3,1424.6 L1978.3,1425.6 L1978.3,1426.6 L1978.4,1427.6 L1978.4,1428.6 L1978.4,1429.6 L1978.4,1430.6 L1978.4,1431.6 L1978.5,1432.6 L1978.5,1433.6 L1978.5,1434.6 L1978.5,1435.6 L1978.5,1436.6 L1978.5,1437.6 L1978.5,1438.6 L1978.5,1439.6 L1978.5,1440.6 L1978.5,1441.6 L1978.5,1442.6 L1978.5,1443.6 L1978.5,1444.6 L1978.5,1445.6 L1978.5,1446.6 L1978.5,1447.6 L1978.4,1448.6 L1978.4,1449.6 L1978.4,1450.6 L1978.4,1451.6 L1978.4,1452.6 L1978.3,1453.6 L1978.3,1454.6 L1978.3,1455.6 L1978.2,1456.6 L1978.2,1457.6 L1978.2,1458.6 L1978.1,1459.6 L1978.1,1460.6 L1978.0,1461.6 L1978.0,1462.6 L1977.9,1463.6 L1977.9,1464.6 L1977.8,1465.6 L1977.7,1466.6 L1977.7,1467.6 L1977.6,1468.6 L1977.5,1469.6 L1977.4,1470.6 L1977.4,1471.6 L1977.3,1472.6 L1977.2,1473.6 L1977.1,1474.6 L1977.0,1475.6 L1976.9,1476.6 L1976.8,1477.6 L1976.7,1478.6 L1976.6,1479.6 L1976.5,1480.6 L1976.4,1481.6 L1976.3,1482.6 L1976.1,1483.6 L1976.0,1484.6 L1975.9,1485.6 L1975.8,1486.6 L1975.6,1487.6 L1975.5,1488.6 L1975.3,1489.6 L1975.2,1490.6 L1975.1,1491.6 L1974.9,1492.6 L1974.8,1493.6 L1974.6,1494.6 L1974.4,1495.6 L1974.3,1496.6 L1974.1,1497.6 L1974.0,1498.6 L1973.8,1499.6 L1973.6,1500.6 L1973.4,1501.6 L1973.3,1502.6 L1973.1,1503.6 L1972.9,1504.6 L1972.7,1505.6 L1972.5,1506.6 L1972.3,1507.6 L1972.2,1508.6 L1972.0,1509.6 L1971.8,1510.6 L1971.6,1511.6 L1971.4,1512.6 L1971.1,1513.6 L1970.9,1514.6 L1970.7,1515.6 L1970.5,1516.6 L1970.3,1517.6 L1970.1,1518.6 L1969.9,1519.6 L1969.6,1520.6 L1969.4,1521.6 L1969.2,1522.6 L1969.0,1523.6 L1968.7,1524.6 L1968.5,1525.6 L1968.3,1526.6 L1968.0,1527.6 L1967.8,1528.6 L1967.5,1529.6 L1967.3,1530.6 L1967.1,1531.6 L1966.8,1532.6 L1966.6,1533.6 L1966.3,1534.6 L1966.1,1535.6 L1965.8,1536.6 L1965.5,1537.6 L1965.3,1538.6 L1965.0,1539.6 L1964.8,1540.6 L1964.5,1541.6 L1964.2,1542.6 L1964.0,1543.6 L1963.7,1544.6 L1963.4,1545.6 L1963.2,1546.6 L1962.9,1547.6 L1962.6,1548.6 L1962.4,1549.6 L1962.1,1550.6 L1961.8,1551.6 L1961.6,1552.6 L1961.3,1553.6 L1961.0,1554.6 L1960.7,1555.6 L1960.5,1556.6 L1960.2,1557.6 L1959.9,1558.6 L1959.6,1559.6 L1959.3,1560.6 L1959.1,1561.6 L1958.8,1562.6 L1958.5,1563.6 L1958.2,1564.6 L1957.9,1565.6 L1957.6,1566.6 L1957.3,1567.6 L1957.1,1568.6 L1956.8,1569.6 L1956.5,1570.6 L1956.2,1571.6 L1955.9,1572.6 L1955.6,1573.6 L1955.3,1574.6 L1955.0,1575.6 L1954.7,1576.6 L1954.4,1577.6 L1954.1,1578.6 L1953.8,1579.6 L1953.5,1580.6 L1953.2,1581.6 L1952.9,1582.6 L1952.6,1583.6 L1952.3,1584.6 L1952.0,1585.6 L1951.7,1586.6 L1951.4,1587.6 L1951.1,1588.6 L1950.8,1589.6 L1950.5,1590.6 L1950.2,1591.6 L1949.9,1592.6 L1949.6,1593.6 L1949.3,1594.6 L1949.1,1595.6 L1948.8,1596.6 L1948.5,1597.6 L1948.2,1598.6 L1947.9,1599.6 L1947.6,1600.6 L1947.3,1601.6 L1947.1,1602.6 L1946.8,1603.6 L1946.5,1604.6 L1946.2,1605.6 L1946.0,1606.6 L1945.7,1607.6 L1945.4,1608.6 L1945.2,1609.6 L1944.9,1610.6 L1944.6,1611.6 L1944.4,1612.6 L1944.1,1613.6 L1943.9,1614.6 L1943.6,1615.6 L1943.4,1616.6 L1943.1,1617.6 L1942.9,1618.6 L1942.6,1619.6 L1942.4,1620.6 L1942.1,1621.6 L1941.9,1622.6 L1941.7,1623.6 L1941.4,1624.6 L1941.2,1625.6 L1941.0,1626.6 L1940.7,1627.6 L1940.5,1628.6 L1940.3,1629.6 L1940.1,1630.6 L1939.9,1631.6 L1939.7,1632.6 L1939.5,1633.6 L1939.3,1634.6 L1939.1,1635.6 L1938.9,1636.6 L1938.7,1637.6 L1938.5,1638.6 L1938.3,1639.6 L1938.1,1640.6 L1938.0,1641.6 L1937.8,1642.6 L1937.6,1643.6 L1937.5,1644.6 L1937.3,1645.6 L1937.1,1646.6 L1937.0,1647.6 L1936.9,1648.6 L1936.7,1649.6 L1936.6,1650.6 L1936.4,1651.6 L1936.3,1652.6 L1936.1,1653.6 L1936.0,1653.8 L1914.4,1653.8 L1914.3,1653.6 L1914.1,1652.6 L1914.0,1651.6 L1913.8,1650.6 L1913.7,1649.6 L1913.5,1648.6 L1913.4,1647.6 L1913.3,1646.6 L1913.1,1645.6 L1912.9,1644.6 L1912.8,1643.6 L1912.6,1642.6 L1912.4,1641.6 L1912.3,1640.6 L1912.1,1639.6 L1911.9,1638.6 L1911.7,1637.6 L1911.5,1636.6 L1911.3,1635.6 L1911.1,1634.6 L1910.9,1633.6 L1910.7,1632.6 L1910.5,1631.6 L1910.3,1630.6 L1910.1,1629.6 L1909.9,1628.6 L1909.7,1627.6 L1909.4,1626.6 L1909.2,1625.6 L1909.0,1624.6 L1908.7,1623.6 L1908.5,1622.6 L1908.3,1621.6 L1908.0,1620.6 L1907.8,1619.6 L1907.5,1618.6 L1907.3,1617.6 L1907.0,1616.6 L1906.8,1615.6 L1906.5,1614.6 L1906.3,1613.6 L1906.0,1612.6 L1905.8,1611.6 L1905.5,1610.6 L1905.2,1609.6 L1905.0,1608.6 L1904.7,1607.6 L1904.4,1606.6 L1904.2,1605.6 L1903.9,1604.6 L1903.6,1603.6 L1903.3,1602.6 L1903.1,1601.6 L1902.8,1600.6 L1902.5,1599.6 L1902.2,1598.6 L1901.9,1597.6 L1901.6,1596.6 L1901.3,1595.6 L1901.1,1594.6 L1900.8,1593.6 L1900.5,1592.6 L1900.2,1591.6 L1899.9,1590.6 L1899.6,1589.6 L1899.3,1588.6 L1899.0,1587.6 L1898.7,1586.6 L1898.4,1585.6 L1898.1,1584.6 L1897.8,1583.6 L1897.5,1582.6 L1897.2,1581.6 L1896.9,1580.6 L1896.6,1579.6 L1896.3,1578.6 L1896.0,1577.6 L1895.7,1576.6 L1895.4,1575.6 L1895.1,1574.6 L1894.8,1573.6 L1894.5,1572.6 L1894.2,1571.6 L1893.9,1570.6 L1893.6,1569.6 L1893.3,1568.6 L1893.1,1567.6 L1892.8,1566.6 L1892.5,1565.6 L1892.2,1564.6 L1891.9,1563.6 L1891.6,1562.6 L1891.3,1561.6 L1891.1,1560.6 L1890.8,1559.6 L1890.5,1558.6 L1890.2,1557.6 L1889.9,1556.6 L1889.7,1555.6 L1889.4,1554.6 L1889.1,1553.6 L1888.8,1552.6 L1888.6,1551.6 L1888.3,1550.6 L1888.0,1549.6 L1887.8,1548.6 L1887.5,1547.6 L1887.2,1546.6 L1887.0,1545.6 L1886.7,1544.6 L1886.4,1543.6 L1886.2,1542.6 L1885.9,1541.6 L1885.6,1540.6 L1885.4,1539.6 L1885.1,1538.6 L1884.9,1537.6 L1884.6,1536.6 L1884.3,1535.6 L1884.1,1534.6 L1883.8,1533.6 L1883.6,1532.6 L1883.3,1531.6 L1883.1,1530.6 L1882.9,1529.6 L1882.6,1528.6 L1882.4,1527.6 L1882.1,1526.6 L1881.9,1525.6 L1881.7,1524.6 L1881.4,1523.6 L1881.2,1522.6 L1881.0,1521.6 L1880.8,1520.6 L1880.5,1519.6 L1880.3,1518.6 L1880.1,1517.6 L1879.9,1516.6 L1879.7,1515.6 L1879.5,1514.6 L1879.3,1513.6 L1879.0,1512.6 L1878.8,1511.6 L1878.6,1510.6 L1878.4,1509.6 L1878.2,1508.6 L1878.1,1507.6 L1877.9,1506.6 L1877.7,1505.6 L1877.5,1504.6 L1877.3,1503.6 L1877.1,1502.6 L1877.0,1501.6 L1876.8,1500.6 L1876.6,1499.6 L1876.4,1498.6 L1876.3,1497.6 L1876.1,1496.6 L1876.0,1495.6 L1875.8,1494.6 L1875.6,1493.6 L1875.5,1492.6 L1875.3,1491.6 L1875.2,1490.6 L1875.1,1489.6 L1874.9,1488.6 L1874.8,1487.6 L1874.6,1486.6 L1874.5,1485.6 L1874.4,1484.6 L1874.3,1483.6 L1874.1,1482.6 L1874.0,1481.6 L1873.9,1480.6 L1873.8,1479.6 L1873.7,1478.6 L1873.6,1477.6 L1873.5,1476.6 L1873.4,1475.6 L1873.3,1474.6 L1873.2,1473.6 L1873.1,1472.6 L1873.0,1471.6 L1873.0,1470.6 L1872.9,1469.6 L1872.8,1468.6 L1872.7,1467.6 L1872.7,1466.6 L1872.6,1465.6 L1872.5,1464.6 L1872.5,1463.6 L1872.4,1462.6 L1872.4,1461.6 L1872.3,1460.6 L1872.3,1459.6 L1872.2,1458.6 L1872.2,1457.6 L1872.2,1456.6 L1872.1,1455.6 L1872.1,1454.6 L1872.1,1453.6 L1872.0,1452.6 L1872.0,1451.6 L1872.0,1450.6 L1872.0,1449.6 L1872.0,1448.6 L1871.9,1447.6 L1871.9,1446.6 L1871.9,1445.6 L1871.9,1444.6 L1871.9,1443.6 L1871.9,1442.6 L1871.9,1441.6 L1871.9,1440.6 L1871.9,1439.6 L1871.9,1438.6 L1871.9,1437.6 L1871.9,1436.6 L1871.9,1435.6 L1871.9,1434.6 L1871.9,1433.6 L1871.9,1432.6 L1872.0,1431.6 L1872.0,1430.6 L1872.0,1429.6 L1872.0,1428.6 L1872.0,1427.6 L1872.1,1426.6 L1872.1,1425.6 L1872.1,1424.6 L1872.2,1423.6 L1872.2,1422.6 L1872.2,1421.6 L1872.3,1420.6 L1872.3,1419.6 L1872.3,1418.6 L1872.4,1417.6 L1872.4,1416.6 L1872.5,1415.6 L1872.5,1414.6 L1872.6,1413.6 L1872.6,1412.6 L1872.7,1411.6 L1872.7,1410.6 L1872.8,1409.6 L1872.8,1408.6 L1872.9,1407.6 L1872.9,1406.6 L1873.0,1405.6 L1873.1,1404.6 L1873.1,1403.6 L1873.2,1402.6 L1873.2,1401.6 L1873.3,1400.6 L1873.3,1399.6 L1873.4,1398.6 L1873.4,1397.6 L1873.5,1396.6 L1873.5,1395.6 L1873.6,1394.6 L1873.6,1393.6 L1873.7,1392.6 L1873.7,1391.6 L1873.7,1390.6 L1873.8,1389.6 L1873.8,1388.6 L1873.8,1387.6 L1873.9,1386.6 L1873.9,1385.6 L1873.9,1384.6 L1874.0,1383.6 L1874.0,1382.6 L1874.0,1381.6 L1874.0,1380.6 L1874.1,1379.6 L1874.1,1378.6 L1874.1,1377.6 L1874.1,1376.6 L1874.1,1375.6 L1874.1,1374.6 L1874.1,1373.6 L1874.1,1372.6 L1874.1,1371.6 L1874.1,1370.6 L1874.1,1369.6 L1874.1,1368.6 L1874.1,1367.6 L1874.1,1366.6 L1874.0,1365.6 L1874.0,1364.6 L1874.0,1363.6 L1874.0,1362.6 L1874.0,1361.6 L1873.9,1360.6 L1873.9,1359.6 L1873.9,1358.6 L1873.8,1357.6 L1873.8,1356.6 L1873.8,1355.6 L1873.7,1354.6 L1873.7,1353.6 L1873.6,1352.6 L1873.6,1351.6 L1873.5,1350.6 L1873.5,1349.6 L1873.4,1348.6 L1873.3,1347.6 L1873.3,1346.6 L1873.2,1345.6 L1873.1,1344.6 L1873.0,1343.6 L1873.0,1342.6 L1872.9,1341.6 L1872.8,1340.6 L1872.7,1339.6 L1872.6,1338.6 L1872.5,1337.6 L1872.4,1336.6 L1872.2,1335.6 L1872.1,1334.6 L1872.0,1333.6 L1871.8,1332.6 L1871.7,1331.6 L1871.6,1330.6 L1871.4,1329.6 L1871.2,1328.6 L1871.1,1327.6 L1870.9,1326.6 L1870.7,1325.6 L1870.5,1324.6 L1870.3,1323.6 L1870.1,1322.6 L1869.9,1321.6 L1869.7,1320.6 L1869.5,1319.6 L1869.2,1318.6 L1869.0,1317.6 L1868.7,1316.6 L1868.5,1315.6 L1868.2,1314.6 L1867.9,1313.6 L1867.7,1312.6 L1867.4,1311.6 L1867.1,1310.6 L1866.8,1309.6 L1866.5,1308.6 L1866.2,1307.6 L1865.9,1306.6 L1865.5,1305.6 L1865.2,1304.6 L1864.9,1303.6 L1864.5,1302.6 L1864.2,1301.6 L1863.8,1300.6 L1863.5,1299.6 L1863.1,1298.6 L1862.8,1297.6 L1862.4,1296.6 L1862.0,1295.6 L1861.6,1294.6 L1861.3,1293.6 L1860.9,1292.6 L1860.5,1291.6 L1860.1,1290.6 L1859.7,1289.6 L1859.3,1288.6 L1858.9,1287.6 L1858.5,1286.6 L1858.1,1285.6 L1857.6,1284.6 L1857.2,1283.6 L1856.8,1282.6 L1856.4,1281.6 L1855.9,1280.6 L1855.5,1279.6 L1855.1,1278.6 L1854.6,1277.6 L1854.2,1276.6 L1853.7,1275.6 L1853.3,1274.6 L1852.8,1273.6 L1852.3,1272.6 L1851.9,1271.6 L1851.4,1270.6 L1850.9,1269.6 L1850.5,1268.6 L1850.0,1267.6 L1849.5,1266.6 L1849.0,1265.6 L1848.5,1264.6 L1848.0,1263.6 L1847.5,1262.6 L1847.0,1261.6 L1846.5,1260.6 L1846.0,1259.6 L1845.5,1258.6 L1845.0,1257.6 L1844.5,1256.6 L1844.0,1255.6 L1843.5,1254.6 L1843.0,1253.6 L1842.4,1252.6 L1841.9,1251.6 L1841.4,1250.6 L1840.9,1249.6 L1840.4,1248.6 L1839.8,1247.6 L1839.3,1246.6 L1838.8,1245.6 L1838.2,1244.6 L1837.7,1243.6 L1837.2,1242.6 L1836.6,1241.6 L1836.1,1240.6 L1835.5,1239.6 L1835.0,1238.6 L1834.5,1237.6 L1833.9,1236.6 L1833.4,1235.6 L1832.8,1234.6 L1832.3,1233.6 L1831.7,1232.6 L1831.2,1231.6 L1830.6,1230.6 L1830.1,1229.6 L1829.5,1228.6 L1829.0,1227.6 L1828.4,1226.6 L1827.8,1225.6 L1827.3,1224.6 L1826.7,1223.6 L1826.2,1222.6 L1825.6,1221.6 L1825.0,1220.6 L1824.5,1219.6 L1823.9,1218.6 L1823.3,1217.6 L1822.8,1216.6 L1822.2,1215.6 L1821.6,1214.6 L1821.1,1213.6 L1820.5,1212.6 L1819.9,1211.6 L1819.4,1210.6 L1818.8,1209.6 L1818.2,1208.6 L1817.7,1207.6 L1817.1,1206.6 L1816.6,1205.6 L1816.0,1204.6 L1815.4,1203.6 L1814.9,1202.6 L1814.3,1201.6 L1813.8,1200.6 L1813.2,1199.6 L1812.7,1198.6 L1812.1,1197.6 L1811.6,1196.6 L1811.0,1195.6 L1810.5,1194.6 L1809.9,1193.6 L1809.4,1192.6 L1808.9,1191.6 L1808.3,1190.6 L1807.8,1189.6 L1807.3,1188.6 L1806.8,1187.6 L1806.3,1186.6 L1805.7,1185.6 L1805.2,1184.6 L1804.7,1183.6 L1804.2,1182.6 L1803.7,1181.6 L1803.2,1180.6 L1802.7,1179.6 L1802.2,1178.6 L1801.8,1177.6 L1801.3,1176.6 L1800.8,1175.6 L1800.3,1174.6 L1799.9,1173.6 L1799.4,1172.6 L1798.9,1171.6 L1798.5,1170.6 L1798.0,1169.6 L1797.6,1168.6 L1797.2,1167.6 L1796.7,1166.6 L1796.3,1165.6 L1795.9,1164.6 L1795.5,1163.6 L1795.0,1162.6 L1794.6,1161.6 L1794.2,1160.6 L1793.8,1159.6 L1793.4,1158.6 L1793.1,1157.6 L1792.7,1156.6 L1792.3,1155.6 L1791.9,1154.6 L1791.6,1153.6 L1791.2,1152.6 L1790.8,1151.6 L1790.5,1150.6 L1790.1,1149.6 L1789.8,1148.6 L1789.5,1147.6 L1789.1,1146.6 L1788.8,1145.6 L1788.5,1144.6 L1788.2,1143.6 L1787.8,1142.6 L1787.5,1141.6 L1787.2,1140.6 L1786.9,1139.6 L1786.7,1138.6 L1786.4,1137.6 L1786.1,1136.6 L1785.8,1135.6 L1785.5,1134.6 L1785.3,1133.6 L1785.0,1132.6 L1784.8,1131.6 L1784.5,1130.6 L1784.3,1129.6 L1784.0,1128.6 L1783.8,1127.6 L1783.5,1126.6 L1783.3,1125.6 L1783.1,1124.6 L1782.9,1123.6 L1782.7,1122.6 L1782.5,1121.6 L1782.3,1120.6 L1782.1,1119.6 L1781.9,1118.6 L1781.7,1117.6 L1781.5,1116.6 L1781.3,1115.6 L1781.2,1114.6 L1781.0,1113.6 L1780.9,1112.6 L1780.7,1111.6 L1780.6,1110.6 L1780.5,1109.6 L1780.3,1108.6 L1780.2,1107.6 L1780.1,1106.6 L1780.0,1105.6 L1779.9,1104.6 L1779.9,1103.6 L1779.8,1102.6 L1779.7,1101.6 L1779.7,1100.6 L1779.6,1099.6 L1779.6,1098.6 L1779.5,1097.6 L1779.5,1096.6 L1779.5,1095.6 L1779.4,1094.6 L1779.4,1093.6 L1779.4,1092.6 L1779.4,1091.6 L1779.4,1090.6 L1779.4,1089.6 L1779.5,1088.6 L1779.5,1087.6 L1779.5,1086.6 L1779.5,1085.6 L1779.6,1084.6 L1779.6,1083.6 L1779.7,1082.6 L1779.7,1081.6 L1779.8,1080.6 L1779.9,1079.6 L1779.9,1078.6 L1780.0,1077.6 L1780.1,1076.6 L1780.2,1075.6 L1780.2,1074.6 L1780.3,1073.6 L1780.4,1072.6 L1780.5,1071.6 L1780.7,1070.6 L1780.8,1069.6 L1780.9,1068.6 L1781.0,1067.6 L1781.2,1066.6 L1781.3,1065.6 L1781.5,1064.6 L1781.6,1063.6 L1781.8,1062.6 L1781.9,1061.6 L1782.1,1060.6 L1782.3,1059.6 L1782.5,1058.6 L1782.7,1057.6 L1782.9,1056.6 L1783.1,1055.6 L1783.3,1054.6 L1783.5,1053.6 L1783.8,1052.6 L1784.0,1051.6 L1784.2,1050.6 L1784.5,1049.6 L1784.7,1048.6 L1785.0,1047.6 L1785.3,1046.6 L1785.5,1045.6 L1785.8,1044.6 L1786.1,1043.6 L1786.4,1042.6 L1786.7,1041.6 L1787.0,1040.6 L1787.3,1039.6 L1787.7,1038.6 L1788.0,1037.6 L1788.4,1036.6 L1788.7,1035.6 L1789.1,1034.6 L1789.4,1033.6 L1789.8,1032.6 L1790.2,1031.6 L1790.6,1030.6 L1791.0,1029.6 L1791.4,1028.6 L1791.8,1027.6 L1792.2,1026.6 L1792.6,1025.6 L1793.1,1024.6 L1793.5,1023.6 L1793.9,1022.6 L1794.4,1021.6 L1794.9,1020.6 L1795.3,1019.6 L1795.8,1018.6 L1796.3,1017.6 L1796.8,1016.6 L1797.3,1015.6 L1797.8,1014.6 L1798.3,1013.6 L1798.8,1012.6 L1799.3,1011.6 L1799.8,1010.6 L1800.3,1009.6 L1800.9,1008.6 L1801.4,1007.6 L1801.9,1006.6 L1802.5,1005.6 L1803.0,1004.6 L1803.6,1003.6 L1804.1,1002.6 L1804.7,1001.6 L1805.2,1000.6 L1805.8,999.6 L1806.3,998.6 L1806.9,997.6 L1807.5,996.6 L1808.0,995.6 L1808.6,994.6 L1809.1,993.6 L1809.7,992.6 L1810.3,991.6 L1810.8,990.6 L1811.4,989.6 L1812.0,988.6 L1812.6,987.6 L1813.1,986.6 L1813.7,985.6 L1814.3,984.6 L1814.9,983.6 L1815.5,982.6 L1816.0,981.6 L1816.6,980.6 L1817.2,979.6 L1817.8,978.6 L1818.4,977.6 L1819.0,976.6 L1819.5,975.6 L1820.1,974.6 L1820.7,973.6 L1821.3,972.6 L1821.9,971.6 L1822.5,970.6 L1823.1,969.6 L1823.7,968.6 L1824.3,967.6 L1824.9,966.6 L1825.5,965.6 L1826.1,964.6 L1826.7,963.6 L1827.3,962.6 L1827.9,961.6 L1828.5,960.6 L1829.2,959.6 L1829.8,958.6 L1830.4,957.6 L1831.0,956.6 L1831.6,955.6 L1832.2,954.6 L1832.8,953.6 L1833.5,952.6 L1834.1,951.6 L1834.7,950.6 L1835.3,949.6 L1835.9,948.6 L1836.6,947.6 L1837.2,946.6 L1837.8,945.6 L1838.4,944.6 L1839.1,943.6 L1839.7,942.6 L1840.3,941.6 L1841.0,940.6 L1841.6,939.6 L1842.2,938.6 L1842.8,937.6 L1843.5,936.6 L1844.1,935.6 L1844.7,934.6 L1845.4,933.6 L1846.0,932.6 L1846.6,931.6 L1847.3,930.6 L1847.9,929.6 L1848.5,928.6 L1849.2,927.6 L1849.8,926.6 L1850.4,925.6 L1851.0,924.6 L1851.7,923.6 L1852.3,922.6 L1852.9,921.6 L1853.6,920.6 L1854.2,919.6 L1854.8,918.6 L1855.4,917.6 L1856.1,916.6 L1856.7,915.6 L1857.3,914.6 L1857.9,913.6 L1858.5,912.6 L1859.1,911.6 L1859.7,910.6 L1860.3,909.6 L1860.9,908.6 L1861.5,907.6 L1862.1,906.6 L1862.7,905.6 L1863.3,904.6 L1863.9,903.6 L1864.4,902.6 L1865.0,901.6 L1865.6,900.6 L1866.1,899.6 L1866.7,898.6 L1867.2,897.6 L1867.8,896.6 L1868.3,895.6 L1868.9,894.6 L1869.4,893.6 L1869.9,892.6 L1870.4,891.6 L1871.0,890.6 L1871.5,889.6 L1872.0,888.6 L1872.5,887.6 L1873.0,886.6 L1873.5,885.6 L1874.0,884.6 L1874.5,883.6 L1875.0,882.6 L1875.5,881.6 L1876.0,880.6 L1876.5,879.6 L1876.9,878.6 L1877.4,877.6 L1877.9,876.6 L1878.4,875.6 L1878.8,874.6 L1879.3,873.6 L1879.8,872.6 L1880.2,871.6 L1880.7,870.6 L1881.2,869.6 L1881.6,868.6 L1882.1,867.6 L1882.5,866.6 L1883.0,865.6 L1883.4,864.6 L1883.9,863.6 L1884.3,862.6 L1884.8,861.6 L1885.2,860.6 L1885.7,859.6 L1886.1,858.6 L1886.5,857.6 L1887.0,856.6 L1887.4,855.6 L1887.8,854.6 L1888.3,853.6 L1888.7,852.6 L1889.1,851.6 L1889.6,850.6 L1890.0,849.6 L1890.4,848.6 L1890.8,847.6 L1891.2,846.6 L1891.7,845.6 L1892.1,844.6 L1892.5,843.6 L1892.9,842.6 L1893.3,841.6 L1893.7,840.6 L1894.1,839.6 L1894.5,838.6 L1894.9,837.6 L1895.3,836.6 L1895.7,835.6 L1896.0,834.6 L1896.4,833.6 L1896.8,832.6 L1897.2,831.6 L1897.5,830.6 L1897.9,829.6 L1898.3,828.6 L1898.6,827.6 L1899.0,826.6 L1899.3,825.6 L1899.7,824.6 L1900.0,823.6 L1900.4,822.6 L1900.7,821.6 L1901.0,820.6 L1901.3,819.6 L1901.7,818.6 L1902.0,817.6 L1902.3,816.6 L1902.6,815.6 L1902.9,814.6 L1903.2,813.6 L1903.5,812.6 L1903.8,811.6 L1904.1,810.6 L1904.4,809.6 L1904.7,808.6 L1905.0,807.6 L1905.3,806.6 L1905.6,805.6 L1905.9,804.6 L1906.2,803.6 L1906.5,802.6 L1906.8,801.6 L1907.0,800.6 L1907.3,799.6 L1907.6,798.6 L1907.9,797.6 L1908.2,796.6 L1908.5,795.6 L1908.7,794.6 L1909.0,793.6 L1909.3,792.6 L1909.6,791.6 L1909.8,790.6 L1910.1,789.6 L1910.4,788.6 L1910.6,787.6 L1910.9,786.6 L1911.1,785.6 L1911.4,784.6 L1911.6,783.6 L1911.9,782.6 L1912.1,781.6 L1912.4,780.6 L1912.6,779.6 L1912.8,778.6 L1913.0,777.6 L1913.3,776.6 L1913.5,775.6 L1913.7,774.6 L1913.9,773.6 L1914.1,772.6 L1914.3,771.6 L1914.5,770.6 L1914.7,769.6 L1914.9,768.6 L1915.0,767.6 L1915.2,766.6 L1915.4,765.6 L1915.6,764.6 L1915.7,763.6 L1915.9,762.6 L1916.0,761.6 L1916.2,760.6 L1916.3,759.6 L1916.5,758.6 L1916.6,757.6 L1916.8,756.6 L1916.9,755.6 L1917.0,754.6 L1917.2,753.6 L1917.3,752.6 L1917.4,751.6 L1917.6,750.6 L1917.7,749.6 L1917.8,748.6 L1917.9,747.6 L1918.0,746.6 L1918.1,745.6 L1918.3,744.6 L1918.4,743.6 L1918.5,742.6 L1918.6,741.6 L1918.7,740.6 L1918.8,739.6 L1918.9,738.6 L1919.0,737.6 L1919.1,736.6 L1919.2,735.6 L1919.3,734.6 L1919.4,733.6 L1919.5,732.6 L1919.6,731.6 L1919.7,730.6 L1919.8,729.6 L1919.9,728.6 L1919.9,727.6 L1920.0,726.6 L1920.1,725.6 L1920.2,724.6 L1920.3,723.6 L1920.4,722.6 L1920.5,721.6 L1920.6,720.6 L1920.7,719.6 L1920.8,718.6 L1920.8,717.6 L1920.9,716.6 L1921.0,715.6 L1921.1,714.6 L1921.2,713.6 L1921.3,712.6 L1921.3,711.6 L1921.4,710.6 L1921.5,709.6 L1921.6,708.6 L1921.7,707.6 L1921.7,706.6 L1921.8,705.6 L1921.9,704.6 L1922.0,703.6 L1922.0,702.6 L1922.1,701.6 L1922.2,700.6 L1922.3,699.6 L1922.3,698.6 L1922.4,697.6 L1922.5,696.6 L1922.5,695.6 L1922.6,694.6 L1922.6,693.6 L1922.7,692.6 L1922.8,691.6 L1922.8,690.6 L1922.9,689.6 L1922.9,688.6 L1923.0,687.6 L1923.0,686.6 L1923.1,685.6 L1923.2,684.6 L1923.2,683.6 L1923.2,682.6 L1923.3,681.6 L1923.3,680.6 L1923.4,679.6 L1923.4,678.6 L1923.5,677.6 L1923.5,676.6 L1923.6,675.6 L1923.6,674.6 L1923.6,673.6 L1923.7,672.6 L1923.7,671.6 L1923.7,670.6 L1923.8,669.6 L1923.8,668.6 L1923.8,667.6 L1923.9,666.6 L1923.9,665.6 L1923.9,664.6 L1924.0,663.6 L1924.0,662.6 L1924.0,661.6 L1924.0,660.6 L1924.1,659.6 L1924.1,658.6 L1924.1,657.6 L1924.2,656.6 L1924.2,655.6 L1924.2,654.6 L1924.2,653.6 L1924.3,652.6 L1924.3,651.6 Z" fill="#FFC897" stroke="#000" stroke-width="3.6" stroke-linejoin="round"/>
<rect x="1923.3" y="855.2" width="3.8" height="670.4" fill="#000"/>
<rect x="1921.1" y="853.5" width="8.2" height="3.4" rx="0.8" fill="#000"/>
<rect x="1921.1" y="1523.9" width="8.2" height="3.4" rx="0.8" fill="#000"/>
<rect x="1912.9" y="1031.3" width="24.6" height="208.4" rx="2" fill="#000"/>
<circle cx="1925.2" cy="1119.5" r="8" fill="#fff"/>
<rect x="1913.9" y="1162.5" width="23.1" height="3.2" fill="#fff"/>
<path d="M2218.4,373.5 L2218.4,374.5 L2218.5,375.5 L2218.5,376.5 L2218.5,377.5 L2218.6,378.5 L2218.6,379.5 L2218.6,380.5 L2218.7,381.5 L2218.7,382.5 L2218.7,383.5 L2218.8,384.5 L2218.8,385.5 L2218.8,386.5 L2218.9,387.5 L2218.9,388.5 L2219.0,389.5 L2219.0,390.5 L2219.1,391.5 L2219.1,392.5 L2219.2,393.5 L2219.2,394.5 L2219.3,395.5 L2219.4,396.5 L2219.4,397.5 L2219.5,398.5 L2219.6,399.5 L2219.6,400.5 L2219.7,401.5 L2219.8,402.5 L2219.9,403.5 L2220.0,404.5 L2220.1,405.5 L2220.1,406.5 L2220.2,407.5 L2220.3,408.5 L2220.4,409.5 L2220.5,410.5 L2220.6,411.5 L2220.7,412.5 L2220.8,413.5 L2220.9,414.5 L2221.1,415.5 L2221.2,416.5 L2221.3,417.5 L2221.4,418.5 L2221.5,419.5 L2221.6,420.5 L2221.8,421.5 L2221.9,422.5 L2222.0,423.5 L2222.2,424.5 L2222.3,425.5 L2222.4,426.5 L2222.6,427.5 L2222.7,428.5 L2222.8,429.5 L2223.0,430.5 L2223.1,431.5 L2223.3,432.5 L2223.4,433.5 L2223.6,434.5 L2223.7,435.5 L2223.9,436.5 L2224.0,437.5 L2224.2,438.5 L2224.4,439.5 L2224.5,440.5 L2224.7,441.5 L2224.9,442.5 L2225.1,443.5 L2225.2,444.5 L2225.4,445.5 L2225.6,446.5 L2225.8,447.5 L2226.0,448.5 L2226.2,449.5 L2226.4,450.5 L2226.6,451.5 L2226.8,452.5 L2227.0,453.5 L2227.2,454.5 L2227.4,455.5 L2227.7,456.5 L2227.9,457.5 L2228.1,458.5 L2228.3,459.5 L2228.6,460.5 L2228.8,461.5 L2229.1,462.5 L2229.3,463.5 L2229.6,464.5 L2229.8,465.5 L2230.1,466.5 L2230.3,467.5 L2230.6,468.5 L2230.9,469.5 L2231.2,470.5 L2231.5,471.5 L2231.7,472.5 L2232.0,473.5 L2232.3,474.5 L2232.6,475.5 L2232.9,476.5 L2233.3,477.5 L2233.6,478.5 L2233.9,479.5 L2234.2,480.5 L2234.6,481.5 L2234.9,482.5 L2235.2,483.5 L2235.6,484.5 L2236.0,485.5 L2236.3,486.5 L2236.7,487.5 L2237.1,488.5 L2237.4,489.5 L2237.8,490.5 L2238.2,491.5 L2238.6,492.5 L2239.0,493.5 L2239.4,494.5 L2239.9,495.5 L2240.3,496.5 L2240.7,497.5 L2241.2,498.5 L2241.6,499.5 L2242.1,500.5 L2242.5,501.5 L2243.0,502.5 L2243.4,503.5 L2243.9,504.5 L2244.4,505.5 L2244.9,506.5 L2245.4,507.5 L2245.9,508.5 L2246.4,509.5 L2246.9,510.5 L2247.4,511.5 L2248.0,512.5 L2248.5,513.5 L2249.0,514.5 L2249.6,515.5 L2250.1,516.5 L2250.7,517.5 L2251.2,518.5 L2251.8,519.5 L2252.4,520.5 L2252.9,521.5 L2253.5,522.5 L2254.1,523.5 L2254.7,524.5 L2255.3,525.5 L2255.8,526.5 L2256.4,527.5 L2257.0,528.5 L2257.7,529.5 L2258.3,530.5 L2258.9,531.5 L2259.5,532.5 L2260.1,533.5 L2260.8,534.5 L2261.4,535.5 L2262.0,536.5 L2262.7,537.5 L2263.3,538.5 L2264.0,539.5 L2264.6,540.5 L2265.3,541.5 L2266.0,542.5 L2266.6,543.5 L2267.3,544.5 L2268.0,545.5 L2268.7,546.5 L2269.4,547.5 L2270.1,548.5 L2270.8,549.5 L2271.5,550.5 L2272.3,551.5 L2273.0,552.5 L2273.7,553.5 L2274.5,554.5 L2275.2,555.5 L2276.0,556.5 L2276.7,557.5 L2277.5,558.5 L2278.3,559.5 L2279.0,560.5 L2279.8,561.5 L2280.6,562.5 L2281.4,563.5 L2282.1,564.5 L2282.9,565.5 L2283.7,566.5 L2284.5,567.5 L2285.3,568.5 L2286.1,569.5 L2286.9,570.5 L2287.7,571.5 L2288.5,572.5 L2289.3,573.5 L2290.1,574.5 L2291.0,575.5 L2291.8,576.5 L2292.6,577.5 L2293.4,578.5 L2294.2,579.5 L2295.0,580.5 L2295.8,581.5 L2296.6,582.5 L2297.5,583.5 L2298.3,584.5 L2299.1,585.5 L2299.9,586.5 L2300.7,587.5 L2301.5,588.5 L2302.3,589.5 L2303.2,590.5 L2304.0,591.5 L2304.8,592.5 L2305.6,593.5 L2306.4,594.5 L2307.2,595.5 L2308.0,596.5 L2308.8,597.5 L2309.6,598.5 L2310.4,599.5 L2311.2,600.5 L2312.0,601.5 L2312.8,602.5 L2313.6,603.5 L2314.3,604.5 L2315.1,605.5 L2315.9,606.5 L2316.7,607.5 L2317.4,608.5 L2318.2,609.5 L2318.9,610.5 L2319.7,611.5 L2320.4,612.5 L2321.1,613.5 L2321.9,614.5 L2322.6,615.5 L2323.3,616.5 L2324.0,617.5 L2324.7,618.5 L2325.4,619.5 L2326.1,620.5 L2326.7,621.5 L2327.4,622.5 L2328.0,623.5 L2328.7,624.5 L2329.3,625.5 L2329.9,626.5 L2330.5,627.5 L2331.1,628.5 L2331.7,629.5 L2332.3,630.5 L2332.9,631.5 L2333.4,632.5 L2334.0,633.5 L2334.5,634.5 L2335.1,635.5 L2335.6,636.5 L2336.1,637.5 L2336.6,638.5 L2337.1,639.5 L2337.6,640.5 L2338.1,641.5 L2338.6,642.5 L2339.1,643.5 L2339.5,644.5 L2340.0,645.5 L2340.4,646.5 L2340.9,647.5 L2341.3,648.5 L2341.8,649.5 L2342.2,650.5 L2342.6,651.5 L2343.0,652.5 L2343.4,653.5 L2343.8,654.5 L2344.2,655.5 L2344.6,656.5 L2345.0,657.5 L2345.3,658.5 L2345.7,659.5 L2346.1,660.5 L2346.4,661.5 L2346.7,662.5 L2347.1,663.5 L2347.4,664.5 L2347.7,665.5 L2348.0,666.5 L2348.3,667.5 L2348.5,668.5 L2348.8,669.5 L2349.1,670.5 L2349.3,671.5 L2349.6,672.5 L2349.8,673.5 L2350.0,674.5 L2350.2,675.5 L2350.4,676.5 L2350.6,677.5 L2350.8,678.5 L2350.9,679.5 L2351.1,680.5 L2351.2,681.5 L2351.4,682.5 L2351.5,683.5 L2351.6,684.5 L2351.7,685.5 L2351.8,686.5 L2351.9,687.5 L2352.0,688.5 L2352.1,689.5 L2352.2,690.5 L2352.2,691.5 L2352.3,692.5 L2352.3,693.5 L2352.4,694.5 L2352.4,695.5 L2352.4,696.5 L2352.4,697.5 L2352.4,698.5 L2352.4,699.5 L2352.4,700.5 L2352.4,701.5 L2352.3,702.5 L2352.3,703.5 L2352.3,704.5 L2352.2,705.5 L2352.1,706.5 L2352.1,707.5 L2352.0,708.5 L2351.9,709.5 L2351.8,710.5 L2351.7,711.5 L2351.6,712.5 L2351.5,713.5 L2351.4,714.5 L2351.2,715.5 L2351.1,716.5 L2351.0,717.5 L2350.8,718.5 L2350.7,719.5 L2350.5,720.5 L2350.3,721.5 L2350.2,722.5 L2350.0,723.5 L2349.8,724.5 L2349.6,725.5 L2349.5,726.5 L2349.3,727.5 L2349.1,728.5 L2348.9,729.5 L2348.7,730.5 L2348.5,731.5 L2348.3,732.5 L2348.1,733.5 L2347.9,734.5 L2347.6,735.5 L2347.4,736.5 L2347.2,737.5 L2347.0,738.5 L2346.7,739.5 L2346.5,740.5 L2346.3,741.5 L2346.0,742.5 L2345.8,743.5 L2345.6,744.5 L2345.3,745.5 L2345.1,746.5 L2344.8,747.5 L2344.6,748.5 L2344.3,749.5 L2344.0,750.5 L2343.8,751.5 L2343.5,752.5 L2343.3,753.5 L2343.0,754.5 L2342.7,755.5 L2342.5,756.5 L2342.2,757.5 L2341.9,758.5 L2341.6,759.5 L2341.4,760.5 L2341.1,761.5 L2340.8,762.5 L2340.5,763.5 L2340.3,764.5 L2340.0,765.5 L2339.7,766.5 L2339.4,767.5 L2339.1,768.5 L2338.8,769.5 L2338.6,770.5 L2338.3,771.5 L2338.0,772.5 L2337.7,773.5 L2337.4,774.5 L2337.1,775.5 L2336.8,776.5 L2336.5,777.5 L2336.2,778.5 L2335.9,779.5 L2335.6,780.5 L2335.4,781.5 L2335.1,782.5 L2334.8,783.5 L2334.5,784.5 L2334.2,785.5 L2333.9,786.5 L2333.6,787.5 L2333.3,788.5 L2333.0,789.5 L2332.7,790.5 L2332.4,791.5 L2332.0,792.5 L2331.7,793.5 L2331.4,794.5 L2331.1,795.5 L2330.8,796.5 L2330.5,797.5 L2330.2,798.5 L2329.9,799.5 L2329.6,800.5 L2329.3,801.5 L2329.0,802.5 L2328.6,803.5 L2328.3,804.5 L2328.0,805.5 L2327.7,806.5 L2327.4,807.5 L2327.1,808.5 L2326.7,809.5 L2326.4,810.5 L2326.1,811.5 L2325.8,812.5 L2325.4,813.5 L2325.1,814.5 L2324.8,815.5 L2324.5,816.5 L2324.1,817.5 L2323.8,818.5 L2323.5,819.5 L2323.1,820.5 L2322.8,821.5 L2322.5,822.5 L2322.1,823.5 L2321.8,824.5 L2321.4,825.5 L2321.1,826.5 L2320.8,827.5 L2320.4,828.5 L2320.1,829.5 L2319.7,830.5 L2319.4,831.5 L2319.0,832.5 L2318.6,833.5 L2318.3,834.5 L2317.9,835.5 L2317.6,836.5 L2317.2,837.5 L2316.8,838.5 L2316.5,839.5 L2316.1,840.5 L2315.7,841.5 L2315.3,842.5 L2315.0,843.5 L2314.6,844.5 L2314.2,845.5 L2313.8,846.5 L2313.4,847.5 L2313.0,848.5 L2312.6,849.5 L2312.2,850.5 L2311.8,851.5 L2311.4,852.5 L2311.0,853.5 L2310.5,854.5 L2310.1,855.5 L2309.7,856.5 L2309.3,857.5 L2308.8,858.5 L2308.4,859.5 L2308.0,860.5 L2307.5,861.5 L2307.1,862.5 L2306.7,863.5 L2306.2,864.5 L2305.8,865.5 L2305.4,866.5 L2304.9,867.5 L2304.5,868.5 L2304.0,869.5 L2303.6,870.5 L2303.1,871.5 L2302.7,872.5 L2302.3,873.5 L2301.8,874.5 L2301.4,875.5 L2300.9,876.5 L2300.5,877.5 L2300.1,878.5 L2299.6,879.5 L2299.2,880.5 L2298.7,881.5 L2298.3,882.5 L2297.9,883.5 L2297.4,884.5 L2297.0,885.5 L2296.6,886.5 L2296.1,887.5 L2295.7,888.5 L2295.3,889.5 L2294.8,890.5 L2294.4,891.5 L2294.0,892.5 L2293.6,893.5 L2293.1,894.5 L2292.7,895.5 L2292.3,896.5 L2291.9,897.5 L2291.5,898.5 L2291.0,899.5 L2290.6,900.5 L2290.2,901.5 L2289.8,902.5 L2289.4,903.5 L2289.0,904.5 L2288.6,905.5 L2288.2,906.5 L2287.8,907.5 L2287.4,908.5 L2287.0,909.5 L2286.6,910.5 L2286.2,911.5 L2285.8,912.5 L2285.4,913.5 L2285.0,914.5 L2284.7,915.5 L2284.3,916.5 L2283.9,917.5 L2283.6,918.5 L2283.2,919.5 L2282.9,920.5 L2282.6,921.5 L2282.2,922.5 L2281.9,923.5 L2281.6,924.5 L2281.3,925.5 L2281.0,926.5 L2280.7,927.5 L2280.4,928.5 L2280.1,929.5 L2279.8,930.5 L2279.5,931.5 L2279.3,932.5 L2279.0,933.5 L2278.8,934.5 L2278.5,935.5 L2278.3,936.5 L2278.0,937.5 L2277.8,938.5 L2277.6,939.5 L2277.3,940.5 L2277.1,941.5 L2276.9,942.5 L2276.7,943.5 L2276.5,944.5 L2276.3,945.5 L2276.1,946.5 L2275.9,947.5 L2275.7,948.5 L2275.6,949.5 L2275.4,950.5 L2275.2,951.5 L2275.0,952.5 L2274.9,953.5 L2274.7,954.5 L2274.6,955.5 L2274.4,956.5 L2274.3,957.5 L2274.2,958.5 L2274.0,959.5 L2273.9,960.5 L2273.8,961.5 L2273.6,962.5 L2273.5,963.5 L2273.4,964.5 L2273.3,965.5 L2273.2,966.5 L2273.1,967.5 L2273.0,968.5 L2272.9,969.5 L2272.9,970.5 L2272.8,971.5 L2272.7,972.5 L2272.6,973.5 L2272.6,974.5 L2272.5,975.5 L2272.4,976.5 L2272.4,977.5 L2272.3,978.5 L2272.3,979.5 L2272.2,980.5 L2272.2,981.5 L2272.2,982.5 L2272.1,983.5 L2272.1,984.5 L2272.1,985.5 L2272.1,986.5 L2272.0,987.5 L2272.0,988.5 L2272.0,989.5 L2272.0,990.5 L2272.0,991.5 L2271.9,992.5 L2271.9,993.5 L2271.9,994.5 L2271.9,995.5 L2271.9,996.5 L2271.9,997.5 L2271.9,998.5 L2271.9,999.5 L2271.9,1000.5 L2271.9,1001.5 L2271.9,1002.5 L2271.9,1003.5 L2271.9,1004.5 L2271.9,1005.5 L2271.9,1006.5 L2271.9,1007.5 L2271.9,1008.5 L2271.9,1009.5 L2271.9,1010.5 L2271.9,1011.5 L2271.9,1012.5 L2271.9,1013.5 L2271.9,1014.5 L2271.9,1015.5 L2272.0,1016.5 L2272.0,1017.5 L2272.0,1018.5 L2272.0,1019.5 L2272.0,1020.5 L2271.9,1021.5 L2271.9,1022.5 L2271.9,1023.5 L2271.9,1024.5 L2271.9,1025.5 L2271.9,1026.5 L2271.9,1027.5 L2271.9,1028.5 L2271.9,1029.5 L2271.8,1030.5 L2271.8,1031.5 L2271.8,1032.5 L2271.7,1033.5 L2271.7,1034.5 L2271.7,1035.5 L2271.6,1036.5 L2271.6,1037.5 L2271.6,1038.5 L2271.5,1039.5 L2271.5,1040.5 L2271.4,1041.5 L2271.4,1042.5 L2271.3,1043.5 L2271.2,1044.5 L2271.2,1045.5 L2271.1,1046.5 L2271.0,1047.5 L2271.0,1048.5 L2270.9,1049.5 L2270.8,1050.5 L2270.7,1051.5 L2270.6,1052.5 L2270.5,1053.5 L2270.4,1054.5 L2270.3,1055.5 L2270.2,1056.5 L2270.1,1057.5 L2270.0,1058.5 L2269.9,1059.5 L2269.7,1060.5 L2269.6,1061.5 L2269.5,1062.5 L2269.3,1063.5 L2269.2,1064.5 L2269.0,1065.5 L2268.9,1066.5 L2268.7,1067.5 L2268.6,1068.5 L2268.4,1069.5 L2268.2,1070.5 L2268.0,1071.5 L2267.8,1072.5 L2267.6,1073.5 L2267.4,1074.5 L2267.2,1075.5 L2267.0,1076.5 L2266.8,1077.5 L2266.6,1078.5 L2266.3,1079.5 L2266.1,1080.5 L2265.9,1081.5 L2265.6,1082.5 L2265.4,1083.5 L2265.1,1084.5 L2264.9,1085.5 L2264.6,1086.5 L2264.3,1087.5 L2264.0,1088.5 L2263.7,1089.5 L2263.5,1090.5 L2263.2,1091.5 L2262.9,1092.5 L2262.6,1093.5 L2262.3,1094.5 L2262.0,1095.5 L2261.6,1096.5 L2261.3,1097.5 L2261.0,1098.5 L2260.7,1099.5 L2260.4,1100.5 L2260.0,1101.5 L2259.7,1102.5 L2259.4,1103.5 L2259.0,1104.5 L2258.7,1105.5 L2258.4,1106.5 L2258.0,1107.5 L2257.7,1108.5 L2257.3,1109.5 L2257.0,1110.5 L2256.6,1111.5 L2256.3,1112.5 L2255.9,1113.5 L2255.6,1114.5 L2255.2,1115.5 L2254.9,1116.5 L2254.5,1117.5 L2254.1,1118.5 L2253.8,1119.5 L2253.4,1120.5 L2253.0,1121.5 L2252.7,1122.5 L2252.3,1123.5 L2251.9,1124.5 L2251.6,1125.5 L2251.2,1126.5 L2250.8,1127.5 L2250.5,1128.5 L2250.1,1129.5 L2249.7,1130.5 L2249.4,1131.5 L2249.0,1132.5 L2248.6,1133.5 L2248.3,1134.5 L2247.9,1135.5 L2247.5,1136.5 L2247.1,1137.5 L2246.8,1138.5 L2246.4,1139.5 L2246.0,1140.5 L2245.7,1141.5 L2245.3,1142.5 L2244.9,1143.5 L2244.6,1144.5 L2244.2,1145.5 L2243.8,1146.5 L2243.5,1147.5 L2243.1,1148.5 L2242.7,1149.5 L2242.4,1150.5 L2242.0,1151.5 L2241.7,1152.5 L2241.3,1153.5 L2241.0,1154.5 L2240.6,1155.5 L2240.2,1156.5 L2239.9,1157.5 L2239.6,1158.5 L2239.2,1159.5 L2238.9,1160.5 L2238.5,1161.5 L2238.2,1162.5 L2237.8,1163.5 L2237.5,1164.5 L2237.2,1165.5 L2236.8,1166.5 L2236.5,1167.5 L2236.2,1168.5 L2235.9,1169.5 L2235.5,1170.5 L2235.2,1171.5 L2234.9,1172.5 L2234.6,1173.5 L2234.3,1174.5 L2234.0,1175.5 L2233.7,1176.5 L2233.4,1177.5 L2233.1,1178.5 L2232.8,1179.5 L2232.6,1180.5 L2232.3,1181.5 L2232.0,1182.5 L2231.7,1183.5 L2231.5,1184.5 L2231.2,1185.5 L2230.9,1186.5 L2230.7,1187.5 L2230.4,1188.5 L2230.2,1189.5 L2229.9,1190.5 L2229.7,1191.5 L2229.5,1192.5 L2229.2,1193.5 L2229.0,1194.5 L2228.8,1195.5 L2228.5,1196.5 L2228.3,1197.5 L2228.1,1198.5 L2227.9,1199.5 L2227.7,1200.5 L2227.5,1201.5 L2227.3,1202.5 L2227.1,1203.5 L2226.9,1204.5 L2226.7,1205.5 L2226.5,1206.5 L2226.4,1207.5 L2226.2,1208.5 L2226.0,1209.5 L2225.8,1210.5 L2225.7,1211.5 L2225.5,1212.5 L2225.3,1213.5 L2225.2,1214.5 L2225.0,1215.5 L2224.8,1216.5 L2224.7,1217.5 L2224.5,1218.5 L2224.4,1219.5 L2224.2,1220.5 L2224.1,1221.5 L2223.9,1222.5 L2223.8,1223.5 L2223.6,1224.5 L2223.5,1225.5 L2223.4,1226.5 L2223.2,1227.5 L2223.1,1228.5 L2222.9,1229.5 L2222.8,1230.5 L2222.7,1231.5 L2222.5,1232.5 L2222.4,1233.5 L2222.3,1234.5 L2222.2,1235.5 L2222.0,1236.5 L2221.9,1237.5 L2221.8,1238.5 L2221.7,1239.5 L2221.6,1240.5 L2221.5,1241.5 L2221.4,1242.5 L2221.2,1243.5 L2221.1,1244.5 L2221.0,1245.5 L2220.9,1246.5 L2220.8,1247.5 L2220.8,1248.5 L2220.7,1249.5 L2220.6,1250.5 L2220.5,1251.5 L2220.4,1252.5 L2220.3,1253.5 L2220.2,1254.5 L2220.2,1255.5 L2220.1,1256.5 L2220.0,1257.5 L2219.9,1258.5 L2219.9,1259.5 L2219.8,1260.5 L2219.7,1261.5 L2219.7,1262.5 L2219.6,1263.5 L2219.6,1264.5 L2219.5,1265.5 L2219.4,1266.5 L2219.4,1267.5 L2219.3,1268.5 L2219.3,1269.5 L2219.2,1270.5 L2219.2,1271.5 L2219.1,1272.5 L2219.1,1273.5 L2219.0,1274.5 L2219.0,1275.5 L2218.9,1276.5 L2218.9,1277.5 L2218.8,1278.5 L2218.8,1279.5 L2218.8,1280.5 L2218.7,1281.5 L2218.7,1282.5 L2218.6,1283.5 L2218.6,1284.5 L2218.6,1285.5 L2218.5,1286.5 L2218.5,1287.5 L2218.4,1288.5 L2218.4,1289.5 L2218.4,1290.5 L2218.3,1291.5 L2218.3,1291.6 L2216.7,1291.6 L2216.7,1291.5 L2216.6,1290.5 L2216.6,1289.5 L2216.6,1288.5 L2216.5,1287.5 L2216.5,1286.5 L2216.4,1285.5 L2216.4,1284.5 L2216.4,1283.5 L2216.3,1282.5 L2216.3,1281.5 L2216.2,1280.5 L2216.2,1279.5 L2216.2,1278.5 L2216.1,1277.5 L2216.1,1276.5 L2216.0,1275.5 L2216.0,1274.5 L2215.9,1273.5 L2215.9,1272.5 L2215.8,1271.5 L2215.8,1270.5 L2215.7,1269.5 L2215.7,1268.5 L2215.6,1267.5 L2215.6,1266.5 L2215.5,1265.5 L2215.4,1264.5 L2215.4,1263.5 L2215.3,1262.5 L2215.3,1261.5 L2215.2,1260.5 L2215.1,1259.5 L2215.1,1258.5 L2215.0,1257.5 L2214.9,1256.5 L2214.8,1255.5 L2214.8,1254.5 L2214.7,1253.5 L2214.6,1252.5 L2214.5,1251.5 L2214.4,1250.5 L2214.3,1249.5 L2214.2,1248.5 L2214.2,1247.5 L2214.1,1246.5 L2214.0,1245.5 L2213.9,1244.5 L2213.8,1243.5 L2213.6,1242.5 L2213.5,1241.5 L2213.4,1240.5 L2213.3,1239.5 L2213.2,1238.5 L2213.1,1237.5 L2213.0,1236.5 L2212.8,1235.5 L2212.7,1234.5 L2212.6,1233.5 L2212.5,1232.5 L2212.3,1231.5 L2212.2,1230.5 L2212.1,1229.5 L2211.9,1228.5 L2211.8,1227.5 L2211.6,1226.5 L2211.5,1225.5 L2211.4,1224.5 L2211.2,1223.5 L2211.1,1222.5 L2210.9,1221.5 L2210.8,1220.5 L2210.6,1219.5 L2210.5,1218.5 L2210.3,1217.5 L2210.2,1216.5 L2210.0,1215.5 L2209.8,1214.5 L2209.7,1213.5 L2209.5,1212.5 L2209.3,1211.5 L2209.2,1210.5 L2209.0,1209.5 L2208.8,1208.5 L2208.6,1207.5 L2208.5,1206.5 L2208.3,1205.5 L2208.1,1204.5 L2207.9,1203.5 L2207.7,1202.5 L2207.5,1201.5 L2207.3,1200.5 L2207.1,1199.5 L2206.9,1198.5 L2206.7,1197.5 L2206.5,1196.5 L2206.2,1195.5 L2206.0,1194.5 L2205.8,1193.5 L2205.5,1192.5 L2205.3,1191.5 L2205.1,1190.5 L2204.8,1189.5 L2204.6,1188.5 L2204.3,1187.5 L2204.1,1186.5 L2203.8,1185.5 L2203.5,1184.5 L2203.3,1183.5 L2203.0,1182.5 L2202.7,1181.5 L2202.4,1180.5 L2202.2,1179.5 L2201.9,1178.5 L2201.6,1177.5 L2201.3,1176.5 L2201.0,1175.5 L2200.7,1174.5 L2200.4,1173.5 L2200.1,1172.5 L2199.8,1171.5 L2199.5,1170.5 L2199.1,1169.5 L2198.8,1168.5 L2198.5,1167.5 L2198.2,1166.5 L2197.8,1165.5 L2197.5,1164.5 L2197.2,1163.5 L2196.8,1162.5 L2196.5,1161.5 L2196.1,1160.5 L2195.8,1159.5 L2195.4,1158.5 L2195.1,1157.5 L2194.8,1156.5 L2194.4,1155.5 L2194.0,1154.5 L2193.7,1153.5 L2193.3,1152.5 L2193.0,1151.5 L2192.6,1150.5 L2192.3,1149.5 L2191.9,1148.5 L2191.5,1147.5 L2191.2,1146.5 L2190.8,1145.5 L2190.4,1144.5 L2190.1,1143.5 L2189.7,1142.5 L2189.3,1141.5 L2189.0,1140.5 L2188.6,1139.5 L2188.2,1138.5 L2187.9,1137.5 L2187.5,1136.5 L2187.1,1135.5 L2186.7,1134.5 L2186.4,1133.5 L2186.0,1132.5 L2185.6,1131.5 L2185.3,1130.5 L2184.9,1129.5 L2184.5,1128.5 L2184.2,1127.5 L2183.8,1126.5 L2183.4,1125.5 L2183.1,1124.5 L2182.7,1123.5 L2182.3,1122.5 L2182.0,1121.5 L2181.6,1120.5 L2181.2,1119.5 L2180.9,1118.5 L2180.5,1117.5 L2180.1,1116.5 L2179.8,1115.5 L2179.4,1114.5 L2179.1,1113.5 L2178.7,1112.5 L2178.4,1111.5 L2178.0,1110.5 L2177.7,1109.5 L2177.3,1108.5 L2177.0,1107.5 L2176.6,1106.5 L2176.3,1105.5 L2176.0,1104.5 L2175.6,1103.5 L2175.3,1102.5 L2175.0,1101.5 L2174.6,1100.5 L2174.3,1099.5 L2174.0,1098.5 L2173.7,1097.5 L2173.4,1096.5 L2173.0,1095.5 L2172.7,1094.5 L2172.4,1093.5 L2172.1,1092.5 L2171.8,1091.5 L2171.5,1090.5 L2171.3,1089.5 L2171.0,1088.5 L2170.7,1087.5 L2170.4,1086.5 L2170.1,1085.5 L2169.9,1084.5 L2169.6,1083.5 L2169.4,1082.5 L2169.1,1081.5 L2168.9,1080.5 L2168.7,1079.5 L2168.4,1078.5 L2168.2,1077.5 L2168.0,1076.5 L2167.8,1075.5 L2167.6,1074.5 L2167.4,1073.5 L2167.2,1072.5 L2167.0,1071.5 L2166.8,1070.5 L2166.6,1069.5 L2166.4,1068.5 L2166.3,1067.5 L2166.1,1066.5 L2166.0,1065.5 L2165.8,1064.5 L2165.7,1063.5 L2165.5,1062.5 L2165.4,1061.5 L2165.3,1060.5 L2165.1,1059.5 L2165.0,1058.5 L2164.9,1057.5 L2164.8,1056.5 L2164.7,1055.5 L2164.6,1054.5 L2164.5,1053.5 L2164.4,1052.5 L2164.3,1051.5 L2164.2,1050.5 L2164.1,1049.5 L2164.0,1048.5 L2164.0,1047.5 L2163.9,1046.5 L2163.8,1045.5 L2163.8,1044.5 L2163.7,1043.5 L2163.6,1042.5 L2163.6,1041.5 L2163.5,1040.5 L2163.5,1039.5 L2163.4,1038.5 L2163.4,1037.5 L2163.4,1036.5 L2163.3,1035.5 L2163.3,1034.5 L2163.3,1033.5 L2163.2,1032.5 L2163.2,1031.5 L2163.2,1030.5 L2163.1,1029.5 L2163.1,1028.5 L2163.1,1027.5 L2163.1,1026.5 L2163.1,1025.5 L2163.1,1024.5 L2163.1,1023.5 L2163.1,1022.5 L2163.1,1021.5 L2163.0,1020.5 L2163.0,1019.5 L2163.0,1018.5 L2163.0,1017.5 L2163.0,1016.5 L2163.1,1015.5 L2163.1,1014.5 L2163.1,1013.5 L2163.1,1012.5 L2163.1,1011.5 L2163.1,1010.5 L2163.1,1009.5 L2163.1,1008.5 L2163.1,1007.5 L2163.1,1006.5 L2163.1,1005.5 L2163.1,1004.5 L2163.1,1003.5 L2163.1,1002.5 L2163.1,1001.5 L2163.1,1000.5 L2163.1,999.5 L2163.1,998.5 L2163.1,997.5 L2163.1,996.5 L2163.1,995.5 L2163.1,994.5 L2163.1,993.5 L2163.1,992.5 L2163.0,991.5 L2163.0,990.5 L2163.0,989.5 L2163.0,988.5 L2163.0,987.5 L2162.9,986.5 L2162.9,985.5 L2162.9,984.5 L2162.9,983.5 L2162.8,982.5 L2162.8,981.5 L2162.8,980.5 L2162.7,979.5 L2162.7,978.5 L2162.6,977.5 L2162.6,976.5 L2162.5,975.5 L2162.4,974.5 L2162.4,973.5 L2162.3,972.5 L2162.2,971.5 L2162.1,970.5 L2162.1,969.5 L2162.0,968.5 L2161.9,967.5 L2161.8,966.5 L2161.7,965.5 L2161.6,964.5 L2161.5,963.5 L2161.4,962.5 L2161.2,961.5 L2161.1,960.5 L2161.0,959.5 L2160.8,958.5 L2160.7,957.5 L2160.6,956.5 L2160.4,955.5 L2160.3,954.5 L2160.1,953.5 L2160.0,952.5 L2159.8,951.5 L2159.6,950.5 L2159.4,949.5 L2159.3,948.5 L2159.1,947.5 L2158.9,946.5 L2158.7,945.5 L2158.5,944.5 L2158.3,943.5 L2158.1,942.5 L2157.9,941.5 L2157.7,940.5 L2157.4,939.5 L2157.2,938.5 L2157.0,937.5 L2156.7,936.5 L2156.5,935.5 L2156.2,934.5 L2156.0,933.5 L2155.7,932.5 L2155.5,931.5 L2155.2,930.5 L2154.9,929.5 L2154.6,928.5 L2154.3,927.5 L2154.0,926.5 L2153.7,925.5 L2153.4,924.5 L2153.1,923.5 L2152.8,922.5 L2152.4,921.5 L2152.1,920.5 L2151.8,919.5 L2151.4,918.5 L2151.1,917.5 L2150.7,916.5 L2150.3,915.5 L2150.0,914.5 L2149.6,913.5 L2149.2,912.5 L2148.8,911.5 L2148.4,910.5 L2148.0,909.5 L2147.6,908.5 L2147.2,907.5 L2146.8,906.5 L2146.4,905.5 L2146.0,904.5 L2145.6,903.5 L2145.2,902.5 L2144.8,901.5 L2144.4,900.5 L2144.0,899.5 L2143.5,898.5 L2143.1,897.5 L2142.7,896.5 L2142.3,895.5 L2141.9,894.5 L2141.4,893.5 L2141.0,892.5 L2140.6,891.5 L2140.2,890.5 L2139.7,889.5 L2139.3,888.5 L2138.9,887.5 L2138.4,886.5 L2138.0,885.5 L2137.6,884.5 L2137.1,883.5 L2136.7,882.5 L2136.3,881.5 L2135.8,880.5 L2135.4,879.5 L2134.9,878.5 L2134.5,877.5 L2134.1,876.5 L2133.6,875.5 L2133.2,874.5 L2132.7,873.5 L2132.3,872.5 L2131.9,871.5 L2131.4,870.5 L2131.0,869.5 L2130.5,868.5 L2130.1,867.5 L2129.6,866.5 L2129.2,865.5 L2128.8,864.5 L2128.3,863.5 L2127.9,862.5 L2127.5,861.5 L2127.0,860.5 L2126.6,859.5 L2126.2,858.5 L2125.7,857.5 L2125.3,856.5 L2124.9,855.5 L2124.5,854.5 L2124.0,853.5 L2123.6,852.5 L2123.2,851.5 L2122.8,850.5 L2122.4,849.5 L2122.0,848.5 L2121.6,847.5 L2121.2,846.5 L2120.8,845.5 L2120.4,844.5 L2120.0,843.5 L2119.7,842.5 L2119.3,841.5 L2118.9,840.5 L2118.5,839.5 L2118.2,838.5 L2117.8,837.5 L2117.4,836.5 L2117.1,835.5 L2116.7,834.5 L2116.4,833.5 L2116.0,832.5 L2115.6,831.5 L2115.3,830.5 L2114.9,829.5 L2114.6,828.5 L2114.2,827.5 L2113.9,826.5 L2113.6,825.5 L2113.2,824.5 L2112.9,823.5 L2112.5,822.5 L2112.2,821.5 L2111.9,820.5 L2111.5,819.5 L2111.2,818.5 L2110.9,817.5 L2110.5,816.5 L2110.2,815.5 L2109.9,814.5 L2109.6,813.5 L2109.2,812.5 L2108.9,811.5 L2108.6,810.5 L2108.3,809.5 L2107.9,808.5 L2107.6,807.5 L2107.3,806.5 L2107.0,805.5 L2106.7,804.5 L2106.4,803.5 L2106.0,802.5 L2105.7,801.5 L2105.4,800.5 L2105.1,799.5 L2104.8,798.5 L2104.5,797.5 L2104.2,796.5 L2103.9,795.5 L2103.6,794.5 L2103.3,793.5 L2103.0,792.5 L2102.6,791.5 L2102.3,790.5 L2102.0,789.5 L2101.7,788.5 L2101.4,787.5 L2101.1,786.5 L2100.8,785.5 L2100.5,784.5 L2100.2,783.5 L2099.9,782.5 L2099.6,781.5 L2099.4,780.5 L2099.1,779.5 L2098.8,778.5 L2098.5,777.5 L2098.2,776.5 L2097.9,775.5 L2097.6,774.5 L2097.3,773.5 L2097.0,772.5 L2096.7,771.5 L2096.4,770.5 L2096.2,769.5 L2095.9,768.5 L2095.6,767.5 L2095.3,766.5 L2095.0,765.5 L2094.7,764.5 L2094.5,763.5 L2094.2,762.5 L2093.9,761.5 L2093.6,760.5 L2093.4,759.5 L2093.1,758.5 L2092.8,757.5 L2092.5,756.5 L2092.3,755.5 L2092.0,754.5 L2091.7,753.5 L2091.5,752.5 L2091.2,751.5 L2091.0,750.5 L2090.7,749.5 L2090.4,748.5 L2090.2,747.5 L2089.9,746.5 L2089.7,745.5 L2089.4,744.5 L2089.2,743.5 L2089.0,742.5 L2088.7,741.5 L2088.5,740.5 L2088.3,739.5 L2088.0,738.5 L2087.8,737.5 L2087.6,736.5 L2087.4,735.5 L2087.1,734.5 L2086.9,733.5 L2086.7,732.5 L2086.5,731.5 L2086.3,730.5 L2086.1,729.5 L2085.9,728.5 L2085.7,727.5 L2085.5,726.5 L2085.4,725.5 L2085.2,724.5 L2085.0,723.5 L2084.8,722.5 L2084.7,721.5 L2084.5,720.5 L2084.3,719.5 L2084.2,718.5 L2084.0,717.5 L2083.9,716.5 L2083.8,715.5 L2083.6,714.5 L2083.5,713.5 L2083.4,712.5 L2083.3,711.5 L2083.2,710.5 L2083.1,709.5 L2083.0,708.5 L2082.9,707.5 L2082.9,706.5 L2082.8,705.5 L2082.7,704.5 L2082.7,703.5 L2082.7,702.5 L2082.6,701.5 L2082.6,700.5 L2082.6,699.5 L2082.6,698.5 L2082.6,697.5 L2082.6,696.5 L2082.6,695.5 L2082.6,694.5 L2082.7,693.5 L2082.7,692.5 L2082.8,691.5 L2082.8,690.5 L2082.9,689.5 L2083.0,688.5 L2083.1,687.5 L2083.2,686.5 L2083.3,685.5 L2083.4,684.5 L2083.5,683.5 L2083.6,682.5 L2083.8,681.5 L2083.9,680.5 L2084.1,679.5 L2084.2,678.5 L2084.4,677.5 L2084.6,676.5 L2084.8,675.5 L2085.0,674.5 L2085.2,673.5 L2085.4,672.5 L2085.7,671.5 L2085.9,670.5 L2086.2,669.5 L2086.5,668.5 L2086.7,667.5 L2087.0,666.5 L2087.3,665.5 L2087.6,664.5 L2087.9,663.5 L2088.3,662.5 L2088.6,661.5 L2088.9,660.5 L2089.3,659.5 L2089.7,658.5 L2090.0,657.5 L2090.4,656.5 L2090.8,655.5 L2091.2,654.5 L2091.6,653.5 L2092.0,652.5 L2092.4,651.5 L2092.8,650.5 L2093.2,649.5 L2093.7,648.5 L2094.1,647.5 L2094.6,646.5 L2095.0,645.5 L2095.5,644.5 L2095.9,643.5 L2096.4,642.5 L2096.9,641.5 L2097.4,640.5 L2097.9,639.5 L2098.4,638.5 L2098.9,637.5 L2099.4,636.5 L2099.9,635.5 L2100.5,634.5 L2101.0,633.5 L2101.6,632.5 L2102.1,631.5 L2102.7,630.5 L2103.3,629.5 L2103.9,628.5 L2104.5,627.5 L2105.1,626.5 L2105.7,625.5 L2106.3,624.5 L2107.0,623.5 L2107.6,622.5 L2108.3,621.5 L2108.9,620.5 L2109.6,619.5 L2110.3,618.5 L2111.0,617.5 L2111.7,616.5 L2112.4,615.5 L2113.1,614.5 L2113.9,613.5 L2114.6,612.5 L2115.3,611.5 L2116.1,610.5 L2116.8,609.5 L2117.6,608.5 L2118.3,607.5 L2119.1,606.5 L2119.9,605.5 L2120.7,604.5 L2121.4,603.5 L2122.2,602.5 L2123.0,601.5 L2123.8,600.5 L2124.6,599.5 L2125.4,598.5 L2126.2,597.5 L2127.0,596.5 L2127.8,595.5 L2128.6,594.5 L2129.4,593.5 L2130.2,592.5 L2131.0,591.5 L2131.8,590.5 L2132.7,589.5 L2133.5,588.5 L2134.3,587.5 L2135.1,586.5 L2135.9,585.5 L2136.7,584.5 L2137.5,583.5 L2138.4,582.5 L2139.2,581.5 L2140.0,580.5 L2140.8,579.5 L2141.6,578.5 L2142.4,577.5 L2143.2,576.5 L2144.0,575.5 L2144.9,574.5 L2145.7,573.5 L2146.5,572.5 L2147.3,571.5 L2148.1,570.5 L2148.9,569.5 L2149.7,568.5 L2150.5,567.5 L2151.3,566.5 L2152.1,565.5 L2152.9,564.5 L2153.6,563.5 L2154.4,562.5 L2155.2,561.5 L2156.0,560.5 L2156.7,559.5 L2157.5,558.5 L2158.3,557.5 L2159.0,556.5 L2159.8,555.5 L2160.5,554.5 L2161.3,553.5 L2162.0,552.5 L2162.7,551.5 L2163.5,550.5 L2164.2,549.5 L2164.9,548.5 L2165.6,547.5 L2166.3,546.5 L2167.0,545.5 L2167.7,544.5 L2168.4,543.5 L2169.0,542.5 L2169.7,541.5 L2170.4,540.5 L2171.0,539.5 L2171.7,538.5 L2172.3,537.5 L2173.0,536.5 L2173.6,535.5 L2174.2,534.5 L2174.9,533.5 L2175.5,532.5 L2176.1,531.5 L2176.7,530.5 L2177.3,529.5 L2178.0,528.5 L2178.6,527.5 L2179.2,526.5 L2179.7,525.5 L2180.3,524.5 L2180.9,523.5 L2181.5,522.5 L2182.1,521.5 L2182.6,520.5 L2183.2,519.5 L2183.8,518.5 L2184.3,517.5 L2184.9,516.5 L2185.4,515.5 L2186.0,514.5 L2186.5,513.5 L2187.0,512.5 L2187.6,511.5 L2188.1,510.5 L2188.6,509.5 L2189.1,508.5 L2189.6,507.5 L2190.1,506.5 L2190.6,505.5 L2191.1,504.5 L2191.6,503.5 L2192.0,502.5 L2192.5,501.5 L2192.9,500.5 L2193.4,499.5 L2193.8,498.5 L2194.3,497.5 L2194.7,496.5 L2195.1,495.5 L2195.6,494.5 L2196.0,493.5 L2196.4,492.5 L2196.8,491.5 L2197.2,490.5 L2197.6,489.5 L2197.9,488.5 L2198.3,487.5 L2198.7,486.5 L2199.0,485.5 L2199.4,484.5 L2199.8,483.5 L2200.1,482.5 L2200.4,481.5 L2200.8,480.5 L2201.1,479.5 L2201.4,478.5 L2201.7,477.5 L2202.1,476.5 L2202.4,475.5 L2202.7,474.5 L2203.0,473.5 L2203.3,472.5 L2203.5,471.5 L2203.8,470.5 L2204.1,469.5 L2204.4,468.5 L2204.7,467.5 L2204.9,466.5 L2205.2,465.5 L2205.4,464.5 L2205.7,463.5 L2205.9,462.5 L2206.2,461.5 L2206.4,460.5 L2206.7,459.5 L2206.9,458.5 L2207.1,457.5 L2207.3,456.5 L2207.6,455.5 L2207.8,454.5 L2208.0,453.5 L2208.2,452.5 L2208.4,451.5 L2208.6,450.5 L2208.8,449.5 L2209.0,448.5 L2209.2,447.5 L2209.4,446.5 L2209.6,445.5 L2209.8,444.5 L2209.9,443.5 L2210.1,442.5 L2210.3,441.5 L2210.5,440.5 L2210.6,439.5 L2210.8,438.5 L2211.0,437.5 L2211.1,436.5 L2211.3,435.5 L2211.4,434.5 L2211.6,433.5 L2211.7,432.5 L2211.9,431.5 L2212.0,430.5 L2212.2,429.5 L2212.3,428.5 L2212.4,427.5 L2212.6,426.5 L2212.7,425.5 L2212.8,424.5 L2213.0,423.5 L2213.1,422.5 L2213.2,421.5 L2213.4,420.5 L2213.5,419.5 L2213.6,418.5 L2213.7,417.5 L2213.8,416.5 L2213.9,415.5 L2214.1,414.5 L2214.2,413.5 L2214.3,412.5 L2214.4,411.5 L2214.5,410.5 L2214.6,409.5 L2214.7,408.5 L2214.8,407.5 L2214.9,406.5 L2214.9,405.5 L2215.0,404.5 L2215.1,403.5 L2215.2,402.5 L2215.3,401.5 L2215.4,400.5 L2215.4,399.5 L2215.5,398.5 L2215.6,397.5 L2215.6,396.5 L2215.7,395.5 L2215.8,394.5 L2215.8,393.5 L2215.9,392.5 L2215.9,391.5 L2216.0,390.5 L2216.0,389.5 L2216.1,388.5 L2216.1,387.5 L2216.2,386.5 L2216.2,385.5 L2216.2,384.5 L2216.3,383.5 L2216.3,382.5 L2216.3,381.5 L2216.4,380.5 L2216.4,379.5 L2216.4,378.5 L2216.5,377.5 L2216.5,376.5 L2216.5,375.5 L2216.6,374.5 L2216.6,373.5 Z" fill="#9CD69C" stroke="#000" stroke-width="3.6" stroke-linejoin="round"/>
<rect x="2215.6" y="571.6" width="3.8" height="534.8" fill="#000"/>
<rect x="2213.4" y="569.9" width="8.2" height="3.4" rx="0.8" fill="#000"/>
<rect x="2213.4" y="1104.7" width="8.2" height="3.4" rx="0.8" fill="#000"/>
<rect x="2205.2" y="675.7" width="24.6" height="206.2" rx="2" fill="#000"/>
<circle cx="2217.5" cy="761.2" r="8" fill="#fff"/>
<rect x="2206.2" y="788.4" width="23.1" height="3.2" fill="#fff"/>
</g>
<g id="frame" fill="#000">
<rect x="209" y="30" width="2228" height="7"/>
<rect x="209" y="1797" width="2232" height="7"/>
<rect x="240" y="30" width="7" height="1774"/>
<rect x="2434" y="33" width="7" height="1771"/>
<rect x="971" y="30" width="7" height="1774"/>
<rect x="1703" y="30" width="7" height="1774"/>
<rect x="226" y="1650" width="15" height="7"/>
<rect x="209" y="1502" width="32" height="7"/>
<rect x="226" y="1355" width="15" height="7"/>
<rect x="209" y="1208" width="32" height="7"/>
<rect x="226" y="1061" width="15" height="7"/>
<rect x="209" y="914" width="32" height="7"/>
<rect x="226" y="766" width="15" height="7"/>
<rect x="209" y="619" width="32" height="7"/>
<rect x="226" y="472" width="15" height="7"/>
<rect x="209" y="324" width="32" height="7"/>
<rect x="226" y="177" width="15" height="7"/>
<rect x="606" y="1803" width="7" height="32"/>
<rect x="1337" y="1803" width="7" height="32"/>
<rect x="2068" y="1803" width="7" height="32"/>
</g>
<g id="ylabels" font-size="75" text-anchor="end">
<text transform="translate(184.6,1821.9) scale(0.975,1.03)">20</text>
<text transform="translate(184.6,1527.4) scale(0.975,1.03)">30</text>
<text transform="translate(184.6,1232.9) scale(0.975,1.03)">40</text>
<text transform="translate(184.6,938.4) scale(0.975,1.03)">50</text>
<text transform="translate(184.6,643.9) scale(0.975,1.03)">60</text>
<text transform="translate(184.6,349.4) scale(0.975,1.03)">70</text>
<text transform="translate(184.6,54.9) scale(0.975,1.03)">80</text>
</g>
<g id="xlabels" font-size="75" text-anchor="middle">
<text x="610.3" y="1898">June</text>
<text x="1341.3" y="1898">August</text>
<text x="2072.8" y="1898">October</text>
</g>
<text id="ytitle" font-size="92" text-anchor="middle" transform="translate(72,917) rotate(-90)">LWC (%)</text>
<g id="legend1">
<rect x="324" y="897" width="83.5" height="41" fill="#FFC897" stroke="#000" stroke-width="2"/>
<rect x="324" y="1007" width="83.5" height="41" fill="#9CD69C" stroke="#000" stroke-width="2"/>
<text x="452" y="939" font-size="67"><tspan font-style="italic">V. ne</tspan>gundo</text>
<text x="445.5" y="1049" font-size="67" font-style="italic">L. polystachyus</text>
</g>
<g id="legend2">
<rect x="316.3" y="1198.3" width="551.3" height="257.4" fill="#fff" stroke="#000" stroke-width="1.7"/>
<rect x="325" y="1207" width="152" height="76" rx="2" fill="#000"/>
<rect x="395" y="1326.6" width="13" height="1.6" fill="#000"/>
<circle cx="401.4" cy="1411" r="6.6" fill="#fff" stroke="#000" stroke-width="1.3"/>
<text transform="translate(492,1267) scale(1,1.03)" font-size="67">25%~75%</text>
<text x="492" y="1348" font-size="67">Mean value</text>
<text x="492" y="1432" font-size="67">Median value</text>
</g>
</svg></body></html>
